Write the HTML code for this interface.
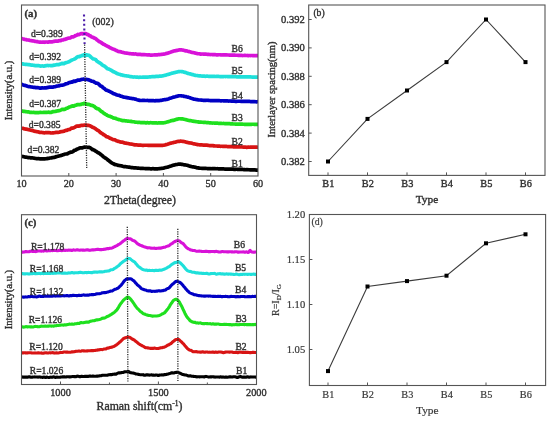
<!DOCTYPE html>
<html><head><meta charset="utf-8"><title>figure</title>
<style>html,body{margin:0;padding:0;background:#fff;width:550px;height:421px;overflow:hidden}</style>
</head><body>
<svg width="550" height="421" viewBox="0 0 550 421" style="display:block">
<rect width="550" height="421" fill="#fff"/>
<g font-family='"Liberation Serif", serif' fill="#303030" style="filter:blur(0.35px)">
<style>text{stroke:#303030;stroke-width:0.36px;paint-order:stroke} text.lt{stroke-width:0.2px;fill:#3a3a3a;stroke:#3a3a3a}</style>
<clipPath id="ca"><rect x="21.5" y="5.0" width="236.5" height="171.0"/></clipPath>
<g clip-path="url(#ca)">
<path d="M20.50,156.21 L21.20,156.35 L21.90,156.44 L22.60,156.53 L23.30,156.65 L24.00,156.78 L24.70,156.98 L25.40,157.14 L26.10,157.19 L26.80,157.27 L27.50,157.44 L28.20,157.56 L28.90,157.61 L29.60,157.67 L30.30,157.80 L31.00,157.90 L31.70,157.92 L32.40,157.96 L33.10,158.01 L33.80,158.08 L34.50,158.21 L35.20,158.35 L35.90,158.47 L36.60,158.61 L37.30,158.72 L38.00,158.70 L38.70,158.66 L39.40,158.78 L40.10,158.93 L40.80,158.93 L41.50,158.88 L42.20,158.88 L42.90,158.87 L43.60,158.90 L44.30,158.92 L45.00,158.82 L45.70,158.77 L46.40,158.72 L47.10,158.56 L47.80,158.44 L48.50,158.37 L49.20,158.20 L49.90,158.01 L50.60,158.00 L51.30,157.92 L52.00,157.69 L52.70,157.61 L53.40,157.48 L54.10,157.34 L54.80,157.34 L55.50,157.06 L56.20,156.64 L56.90,156.49 L57.60,156.36 L58.30,156.14 L59.00,155.95 L59.70,155.76 L60.40,155.67 L61.10,155.51 L61.80,155.15 L62.50,154.90 L63.20,154.73 L63.90,154.48 L64.60,154.18 L65.30,154.00 L66.00,153.99 L66.70,154.01 L67.40,153.72 L68.10,153.13 L68.80,152.89 L69.50,152.71 L70.20,152.23 L70.90,152.02 L71.60,152.05 L72.30,151.96 L73.00,151.51 L73.70,150.87 L74.40,150.38 L75.10,150.20 L75.80,150.01 L76.50,149.46 L77.20,149.04 L77.90,148.88 L78.60,148.59 L79.30,148.19 L80.00,147.87 L80.70,147.76 L81.40,147.78 L82.10,147.86 L82.80,147.67 L83.50,147.35 L84.20,147.18 L84.90,147.12 L85.60,147.24 L86.30,147.35 L87.00,147.32 L87.70,147.34 L88.40,147.45 L89.10,147.35 L89.80,147.47 L90.50,148.01 L91.20,148.47 L91.90,149.18 L92.60,149.75 L93.30,149.71 L94.00,149.91 L94.70,150.54 L95.40,151.04 L96.10,151.35 L96.80,151.81 L97.50,152.42 L98.20,152.80 L98.90,153.06 L99.60,153.61 L100.30,154.13 L101.00,154.58 L101.70,155.15 L102.40,155.75 L103.10,156.43 L103.80,156.97 L104.50,157.39 L105.20,157.89 L105.90,158.35 L106.60,158.76 L107.30,159.45 L108.00,160.10 L108.70,160.58 L109.40,161.12 L110.10,161.62 L110.80,162.14 L111.50,162.64 L112.20,163.13 L112.90,163.44 L113.60,163.72 L114.30,164.26 L115.00,164.60 L115.70,164.67 L116.40,164.78 L117.10,164.94 L117.80,165.15 L118.50,165.40 L119.20,165.52 L119.90,165.61 L120.60,165.73 L121.30,165.83 L122.00,166.03 L122.70,166.29 L123.40,166.45 L124.10,166.57 L124.80,166.64 L125.50,166.68 L126.20,166.78 L126.90,166.90 L127.60,167.02 L128.30,167.10 L129.00,167.15 L129.70,167.19 L130.40,167.36 L131.10,167.55 L131.80,167.55 L132.50,167.58 L133.20,167.77 L133.90,167.86 L134.60,167.83 L135.30,167.88 L136.00,167.92 L136.70,167.98 L137.40,168.13 L138.10,168.21 L138.80,168.22 L139.50,168.25 L140.20,168.30 L140.90,168.32 L141.60,168.32 L142.30,168.31 L143.00,168.38 L143.70,168.50 L144.40,168.52 L145.10,168.53 L145.80,168.55 L146.50,168.55 L147.20,168.59 L147.90,168.65 L148.60,168.66 L149.30,168.67 L150.00,168.73 L150.70,168.80 L151.40,168.82 L152.10,168.78 L152.80,168.71 L153.50,168.72 L154.20,168.83 L154.90,168.87 L155.60,168.83 L156.30,168.85 L157.00,168.87 L157.70,168.85 L158.40,168.78 L159.10,168.70 L159.80,168.62 L160.50,168.49 L161.20,168.41 L161.90,168.35 L162.60,168.26 L163.30,168.18 L164.00,167.98 L164.70,167.68 L165.40,167.50 L166.10,167.42 L166.80,167.27 L167.50,167.15 L168.20,166.97 L168.90,166.64 L169.60,166.37 L170.30,166.23 L171.00,166.02 L171.70,165.77 L172.40,165.55 L173.10,165.32 L173.80,165.11 L174.50,164.96 L175.20,164.75 L175.90,164.57 L176.60,164.50 L177.30,164.40 L178.00,164.27 L178.70,164.16 L179.40,164.11 L180.10,164.13 L180.80,164.20 L181.50,164.30 L182.20,164.39 L182.90,164.52 L183.60,164.70 L184.30,164.82 L185.00,164.87 L185.70,164.99 L186.40,165.13 L187.10,165.24 L187.80,165.39 L188.50,165.64 L189.20,165.93 L189.90,166.15 L190.60,166.34 L191.30,166.57 L192.00,166.78 L192.70,166.86 L193.40,166.91 L194.10,167.06 L194.80,167.16 L195.50,167.28 L196.20,167.59 L196.90,167.86 L197.60,167.93 L198.30,167.94 L199.00,168.07 L199.70,168.22 L200.40,168.26 L201.10,168.27 L201.80,168.30 L202.50,168.36 L203.20,168.42 L203.90,168.45 L204.60,168.43 L205.30,168.42 L206.00,168.46 L206.70,168.51 L207.40,168.54 L208.10,168.51 L208.80,168.53 L209.50,168.55 L210.20,168.59 L210.90,168.72 L211.60,168.76 L212.30,168.70 L213.00,168.72 L213.70,168.67 L214.40,168.59 L215.10,168.67 L215.80,168.74 L216.50,168.73 L217.20,168.70 L217.90,168.73 L218.60,168.81 L219.30,168.87 L220.00,168.87 L220.70,168.89 L221.40,168.92 L222.10,168.87 L222.80,168.80 L223.50,168.84 L224.20,168.98 L224.90,169.05 L225.60,169.05 L226.30,169.04 L227.00,169.03 L227.70,169.03 L228.40,169.03 L229.10,169.05 L229.80,169.13 L230.50,169.21 L231.20,169.20 L231.90,169.16 L232.60,169.14 L233.30,169.20 L234.00,169.31 L234.70,169.33 L235.40,169.29 L236.10,169.26 L236.80,169.26 L237.50,169.34 L238.20,169.41 L238.90,169.40 L239.60,169.40 L240.30,169.43 L241.00,169.43 L241.70,169.41 L242.40,169.45 L243.10,169.52 L243.80,169.58 L244.50,169.59 L245.20,169.67 L245.90,169.73 L246.60,169.68 L247.30,169.66 L248.00,169.72 L248.70,169.73 L249.40,169.74 L250.10,169.85 L250.80,169.94 L251.50,169.89 L252.20,169.83 L252.90,169.85 L253.60,169.89 L254.30,169.87 L255.00,169.93 L255.70,170.03 L256.40,170.05 L257.10,170.14 L257.80,170.21 L258.50,170.17" fill="none" stroke="#000000" stroke-width="3.7" stroke-linejoin="round" stroke-linecap="butt"/>
<path d="M20.50,127.97 L21.20,128.16 L21.90,128.22 L22.60,128.28 L23.30,128.42 L24.00,128.67 L24.70,128.92 L25.40,129.04 L26.10,129.08 L26.80,129.19 L27.50,129.39 L28.20,129.58 L28.90,129.74 L29.60,129.91 L30.30,130.06 L31.00,130.19 L31.70,130.36 L32.40,130.54 L33.10,130.74 L33.80,130.99 L34.50,131.25 L35.20,131.39 L35.90,131.46 L36.60,131.59 L37.30,131.77 L38.00,131.87 L38.70,132.05 L39.40,132.35 L40.10,132.50 L40.80,132.47 L41.50,132.44 L42.20,132.50 L42.90,132.59 L43.60,132.75 L44.30,132.87 L45.00,132.76 L45.70,132.61 L46.40,132.60 L47.10,132.68 L47.80,132.69 L48.50,132.66 L49.20,132.68 L49.90,132.73 L50.60,132.89 L51.30,133.00 L52.00,132.93 L52.70,132.83 L53.40,132.82 L54.10,132.76 L54.80,132.66 L55.50,132.53 L56.20,132.33 L56.90,132.29 L57.60,132.38 L58.30,132.31 L59.00,132.24 L59.70,132.08 L60.40,131.72 L61.10,131.59 L61.80,131.65 L62.50,131.53 L63.20,131.35 L63.90,131.26 L64.60,130.93 L65.30,130.46 L66.00,130.32 L66.70,130.37 L67.40,130.01 L68.10,129.58 L68.80,129.59 L69.50,129.53 L70.20,129.14 L70.90,128.60 L71.60,128.07 L72.30,127.99 L73.00,128.09 L73.70,127.84 L74.40,127.47 L75.10,127.06 L75.80,126.59 L76.50,126.20 L77.20,126.22 L77.90,126.22 L78.60,125.97 L79.30,126.03 L80.00,125.88 L80.70,125.48 L81.40,125.38 L82.10,125.44 L82.80,125.43 L83.50,125.28 L84.20,125.18 L84.90,125.15 L85.60,125.00 L86.30,124.99 L87.00,125.36 L87.70,125.52 L88.40,125.39 L89.10,125.57 L89.80,125.77 L90.50,126.05 L91.20,126.49 L91.90,126.88 L92.60,127.25 L93.30,127.48 L94.00,127.84 L94.70,128.22 L95.40,128.64 L96.10,129.24 L96.80,129.75 L97.50,130.25 L98.20,130.61 L98.90,130.99 L99.60,131.65 L100.30,132.41 L101.00,132.98 L101.70,133.35 L102.40,133.73 L103.10,134.23 L103.80,134.81 L104.50,135.12 L105.20,135.45 L105.90,136.19 L106.60,136.71 L107.30,136.83 L108.00,137.09 L108.70,137.47 L109.40,137.87 L110.10,138.26 L110.80,138.50 L111.50,138.79 L112.20,139.14 L112.90,139.39 L113.60,139.63 L114.30,139.78 L115.00,139.90 L115.70,140.27 L116.40,140.75 L117.10,140.98 L117.80,141.15 L118.50,141.38 L119.20,141.59 L119.90,141.87 L120.60,142.08 L121.30,142.07 L122.00,142.11 L122.70,142.29 L123.40,142.54 L124.10,142.86 L124.80,143.03 L125.50,143.03 L126.20,143.12 L126.90,143.38 L127.60,143.52 L128.30,143.52 L129.00,143.68 L129.70,143.88 L130.40,144.02 L131.10,144.10 L131.80,144.17 L132.50,144.25 L133.20,144.44 L133.90,144.69 L134.60,144.80 L135.30,144.79 L136.00,144.78 L136.70,144.84 L137.40,144.97 L138.10,145.09 L138.80,145.15 L139.50,145.15 L140.20,145.14 L140.90,145.18 L141.60,145.26 L142.30,145.36 L143.00,145.39 L143.70,145.29 L144.40,145.23 L145.10,145.24 L145.80,145.24 L146.50,145.24 L147.20,145.26 L147.90,145.28 L148.60,145.33 L149.30,145.35 L150.00,145.35 L150.70,145.33 L151.40,145.29 L152.10,145.29 L152.80,145.31 L153.50,145.34 L154.20,145.37 L154.90,145.35 L155.60,145.31 L156.30,145.32 L157.00,145.31 L157.70,145.32 L158.40,145.31 L159.10,145.28 L159.80,145.35 L160.50,145.41 L161.20,145.38 L161.90,145.36 L162.60,145.31 L163.30,145.23 L164.00,145.14 L164.70,145.02 L165.40,144.84 L166.10,144.64 L166.80,144.47 L167.50,144.28 L168.20,144.02 L168.90,143.80 L169.60,143.55 L170.30,143.29 L171.00,143.13 L171.70,142.98 L172.40,142.80 L173.10,142.62 L173.80,142.41 L174.50,142.24 L175.20,142.11 L175.90,141.94 L176.60,141.70 L177.30,141.50 L178.00,141.44 L178.70,141.42 L179.40,141.33 L180.10,141.20 L180.80,141.16 L181.50,141.26 L182.20,141.28 L182.90,141.30 L183.60,141.46 L184.30,141.58 L185.00,141.71 L185.70,141.95 L186.40,142.19 L187.10,142.33 L187.80,142.51 L188.50,142.75 L189.20,142.86 L189.90,142.90 L190.60,142.97 L191.30,143.08 L192.00,143.26 L192.70,143.50 L193.40,143.68 L194.10,143.84 L194.80,143.99 L195.50,144.09 L196.20,144.24 L196.90,144.43 L197.60,144.58 L198.30,144.69 L199.00,144.74 L199.70,144.78 L200.40,144.82 L201.10,144.80 L201.80,144.84 L202.50,144.98 L203.20,145.07 L203.90,145.07 L204.60,145.06 L205.30,145.13 L206.00,145.19 L206.70,145.19 L207.40,145.21 L208.10,145.35 L208.80,145.50 L209.50,145.53 L210.20,145.53 L210.90,145.60 L211.60,145.61 L212.30,145.56 L213.00,145.67 L213.70,145.82 L214.40,145.91 L215.10,146.00 L215.80,146.02 L216.50,146.00 L217.20,146.03 L217.90,146.06 L218.60,146.06 L219.30,146.11 L220.00,146.24 L220.70,146.30 L221.40,146.26 L222.10,146.25 L222.80,146.33 L223.50,146.40 L224.20,146.43 L224.90,146.44 L225.60,146.41 L226.30,146.42 L227.00,146.50 L227.70,146.59 L228.40,146.59 L229.10,146.51 L229.80,146.53 L230.50,146.62 L231.20,146.60 L231.90,146.62 L232.60,146.75 L233.30,146.81 L234.00,146.80 L234.70,146.81 L235.40,146.85 L236.10,146.89 L236.80,146.89 L237.50,146.84 L238.20,146.84 L238.90,146.90 L239.60,146.93 L240.30,146.99 L241.00,146.99 L241.70,146.96 L242.40,146.99 L243.10,147.04 L243.80,147.07 L244.50,147.04 L245.20,147.07 L245.90,147.20 L246.60,147.30 L247.30,147.28 L248.00,147.19 L248.70,147.19 L249.40,147.23 L250.10,147.16 L250.80,147.11 L251.50,147.16 L252.20,147.18 L252.90,147.11 L253.60,147.04 L254.30,147.09 L255.00,147.17 L255.70,147.17 L256.40,147.18 L257.10,147.22 L257.80,147.23 L258.50,147.20" fill="none" stroke="#d81414" stroke-width="3.7" stroke-linejoin="round" stroke-linecap="butt"/>
<path d="M20.50,110.82 L21.20,110.89 L21.90,110.98 L22.60,111.13 L23.30,111.31 L24.00,111.40 L24.70,111.45 L25.40,111.56 L26.10,111.70 L26.80,111.78 L27.50,111.79 L28.20,111.86 L28.90,112.07 L29.60,112.28 L30.30,112.32 L31.00,112.30 L31.70,112.41 L32.40,112.50 L33.10,112.44 L33.80,112.45 L34.50,112.54 L35.20,112.57 L35.90,112.54 L36.60,112.55 L37.30,112.66 L38.00,112.68 L38.70,112.61 L39.40,112.49 L40.10,112.40 L40.80,112.45 L41.50,112.50 L42.20,112.52 L42.90,112.51 L43.60,112.39 L44.30,112.32 L45.00,112.37 L45.70,112.37 L46.40,112.33 L47.10,112.32 L47.80,112.23 L48.50,112.18 L49.20,112.31 L49.90,112.36 L50.60,112.37 L51.30,112.33 L52.00,112.02 L52.70,111.70 L53.40,111.59 L54.10,111.53 L54.80,111.52 L55.50,111.39 L56.20,111.18 L56.90,111.07 L57.60,110.91 L58.30,110.80 L59.00,110.65 L59.70,110.39 L60.40,110.16 L61.10,109.88 L61.80,109.53 L62.50,109.26 L63.20,109.33 L63.90,109.54 L64.60,109.44 L65.30,109.07 L66.00,108.57 L66.70,108.22 L67.40,108.08 L68.10,107.75 L68.80,107.34 L69.50,107.07 L70.20,106.82 L70.90,106.54 L71.60,106.22 L72.30,105.89 L73.00,105.97 L73.70,106.13 L74.40,105.72 L75.10,105.34 L75.80,105.33 L76.50,105.09 L77.20,104.65 L77.90,104.61 L78.60,104.75 L79.30,104.58 L80.00,104.53 L80.70,104.48 L81.40,104.12 L82.10,103.87 L82.80,103.95 L83.50,103.87 L84.20,103.40 L84.90,103.28 L85.60,103.58 L86.30,103.92 L87.00,104.27 L87.70,104.30 L88.40,104.23 L89.10,104.58 L89.80,104.86 L90.50,105.08 L91.20,105.42 L91.90,105.39 L92.60,105.47 L93.30,105.92 L94.00,106.30 L94.70,106.82 L95.40,107.49 L96.10,108.10 L96.80,108.57 L97.50,108.63 L98.20,108.75 L98.90,109.29 L99.60,109.87 L100.30,110.52 L101.00,111.24 L101.70,111.59 L102.40,111.96 L103.10,112.68 L103.80,113.24 L104.50,113.65 L105.20,114.10 L105.90,114.51 L106.60,114.93 L107.30,115.36 L108.00,115.68 L108.70,115.96 L109.40,116.16 L110.10,116.33 L110.80,116.69 L111.50,117.09 L112.20,117.34 L112.90,117.64 L113.60,118.07 L114.30,118.24 L115.00,118.21 L115.70,118.39 L116.40,118.74 L117.10,119.01 L117.80,119.20 L118.50,119.41 L119.20,119.62 L119.90,119.81 L120.60,119.95 L121.30,120.16 L122.00,120.49 L122.70,120.65 L123.40,120.57 L124.10,120.57 L124.80,120.74 L125.50,120.88 L126.20,120.92 L126.90,121.00 L127.60,121.11 L128.30,121.15 L129.00,121.22 L129.70,121.28 L130.40,121.29 L131.10,121.39 L131.80,121.58 L132.50,121.71 L133.20,121.75 L133.90,121.77 L134.60,121.93 L135.30,122.12 L136.00,122.21 L136.70,122.23 L137.40,122.28 L138.10,122.37 L138.80,122.39 L139.50,122.37 L140.20,122.47 L140.90,122.60 L141.60,122.64 L142.30,122.63 L143.00,122.63 L143.70,122.64 L144.40,122.63 L145.10,122.70 L145.80,122.83 L146.50,122.79 L147.20,122.71 L147.90,122.72 L148.60,122.80 L149.30,122.82 L150.00,122.74 L150.70,122.68 L151.40,122.74 L152.10,122.81 L152.80,122.87 L153.50,122.92 L154.20,122.92 L154.90,122.88 L155.60,122.85 L156.30,122.94 L157.00,123.03 L157.70,122.99 L158.40,122.93 L159.10,122.96 L159.80,122.97 L160.50,122.89 L161.20,122.88 L161.90,122.94 L162.60,122.91 L163.30,122.82 L164.00,122.71 L164.70,122.59 L165.40,122.44 L166.10,122.24 L166.80,122.02 L167.50,121.88 L168.20,121.70 L168.90,121.43 L169.60,121.23 L170.30,121.04 L171.00,120.80 L171.70,120.60 L172.40,120.45 L173.10,120.40 L173.80,120.33 L174.50,120.08 L175.20,119.78 L175.90,119.54 L176.60,119.34 L177.30,119.17 L178.00,119.01 L178.70,118.83 L179.40,118.76 L180.10,118.76 L180.80,118.79 L181.50,118.79 L182.20,118.83 L182.90,118.99 L183.60,119.16 L184.30,119.31 L185.00,119.46 L185.70,119.56 L186.40,119.71 L187.10,120.00 L187.80,120.22 L188.50,120.33 L189.20,120.47 L189.90,120.60 L190.60,120.67 L191.30,120.76 L192.00,120.94 L192.70,121.09 L193.40,121.19 L194.10,121.33 L194.80,121.41 L195.50,121.51 L196.20,121.70 L196.90,121.76 L197.60,121.78 L198.30,121.91 L199.00,122.09 L199.70,122.15 L200.40,122.15 L201.10,122.21 L201.80,122.26 L202.50,122.27 L203.20,122.33 L203.90,122.37 L204.60,122.38 L205.30,122.43 L206.00,122.51 L206.70,122.56 L207.40,122.57 L208.10,122.65 L208.80,122.76 L209.50,122.81 L210.20,122.88 L210.90,122.94 L211.60,123.00 L212.30,123.04 L213.00,123.00 L213.70,123.02 L214.40,123.10 L215.10,123.22 L215.80,123.22 L216.50,123.09 L217.20,123.12 L217.90,123.28 L218.60,123.36 L219.30,123.38 L220.00,123.39 L220.70,123.43 L221.40,123.47 L222.10,123.50 L222.80,123.49 L223.50,123.46 L224.20,123.51 L224.90,123.59 L225.60,123.65 L226.30,123.65 L227.00,123.65 L227.70,123.70 L228.40,123.69 L229.10,123.67 L229.80,123.70 L230.50,123.81 L231.20,123.92 L231.90,123.96 L232.60,123.97 L233.30,124.00 L234.00,123.99 L234.70,124.00 L235.40,124.07 L236.10,124.10 L236.80,124.06 L237.50,124.06 L238.20,124.09 L238.90,124.10 L239.60,124.12 L240.30,124.18 L241.00,124.20 L241.70,124.19 L242.40,124.19 L243.10,124.24 L243.80,124.26 L244.50,124.30 L245.20,124.38 L245.90,124.41 L246.60,124.43 L247.30,124.39 L248.00,124.30 L248.70,124.31 L249.40,124.36 L250.10,124.37 L250.80,124.36 L251.50,124.31 L252.20,124.27 L252.90,124.26 L253.60,124.27 L254.30,124.33 L255.00,124.35 L255.70,124.33 L256.40,124.37 L257.10,124.37 L257.80,124.29 L258.50,124.27" fill="none" stroke="#1ee01e" stroke-width="3.7" stroke-linejoin="round" stroke-linecap="butt"/>
<path d="M20.50,83.91 L21.20,84.11 L21.90,84.45 L22.60,84.78 L23.30,84.98 L24.00,85.18 L24.70,85.38 L25.40,85.60 L26.10,85.82 L26.80,86.03 L27.50,86.28 L28.20,86.49 L28.90,86.59 L29.60,86.65 L30.30,86.75 L31.00,86.90 L31.70,87.03 L32.40,87.15 L33.10,87.28 L33.80,87.35 L34.50,87.33 L35.20,87.44 L35.90,87.62 L36.60,87.64 L37.30,87.67 L38.00,87.72 L38.70,87.77 L39.40,87.96 L40.10,88.16 L40.80,88.10 L41.50,87.93 L42.20,87.89 L42.90,87.96 L43.60,87.99 L44.30,87.88 L45.00,87.83 L45.70,87.90 L46.40,87.84 L47.10,87.64 L47.80,87.43 L48.50,87.30 L49.20,87.20 L49.90,87.13 L50.60,87.17 L51.30,87.13 L52.00,87.14 L52.70,87.21 L53.40,87.00 L54.10,86.73 L54.80,86.73 L55.50,86.66 L56.20,86.33 L56.90,86.12 L57.60,85.98 L58.30,85.90 L59.00,85.80 L59.70,85.43 L60.40,85.24 L61.10,85.28 L61.80,85.21 L62.50,85.10 L63.20,84.94 L63.90,84.80 L64.60,84.53 L65.30,84.06 L66.00,83.83 L66.70,83.69 L67.40,83.50 L68.10,83.20 L68.80,82.74 L69.50,82.51 L70.20,82.47 L70.90,82.14 L71.60,81.89 L72.30,82.09 L73.00,81.82 L73.70,81.06 L74.40,81.09 L75.10,81.41 L75.80,81.10 L76.50,80.63 L77.20,80.34 L77.90,80.15 L78.60,80.04 L79.30,80.04 L80.00,80.06 L80.70,79.83 L81.40,79.47 L82.10,79.29 L82.80,79.24 L83.50,79.14 L84.20,79.25 L84.90,79.48 L85.60,79.46 L86.30,79.45 L87.00,79.51 L87.70,79.58 L88.40,79.71 L89.10,80.03 L89.80,80.32 L90.50,80.59 L91.20,81.06 L91.90,81.23 L92.60,81.23 L93.30,81.47 L94.00,81.87 L94.70,82.26 L95.40,82.71 L96.10,83.16 L96.80,83.19 L97.50,83.24 L98.20,83.68 L98.90,84.18 L99.60,84.98 L100.30,85.79 L101.00,86.11 L101.70,86.28 L102.40,86.93 L103.10,87.78 L103.80,88.21 L104.50,88.59 L105.20,89.28 L105.90,89.91 L106.60,90.18 L107.30,90.36 L108.00,90.75 L108.70,91.12 L109.40,91.34 L110.10,91.66 L110.80,92.08 L111.50,92.43 L112.20,92.82 L112.90,93.35 L113.60,93.74 L114.30,93.84 L115.00,94.04 L115.70,94.38 L116.40,94.74 L117.10,95.01 L117.80,95.13 L118.50,95.22 L119.20,95.41 L119.90,95.73 L120.60,96.10 L121.30,96.29 L122.00,96.42 L122.70,96.65 L123.40,96.92 L124.10,97.11 L124.80,97.24 L125.50,97.33 L126.20,97.40 L126.90,97.63 L127.60,97.85 L128.30,97.87 L129.00,98.00 L129.70,98.19 L130.40,98.26 L131.10,98.35 L131.80,98.49 L132.50,98.63 L133.20,98.69 L133.90,98.76 L134.60,98.93 L135.30,99.12 L136.00,99.33 L136.70,99.61 L137.40,99.87 L138.10,100.04 L138.80,100.17 L139.50,100.33 L140.20,100.43 L140.90,100.48 L141.60,100.48 L142.30,100.43 L143.00,100.45 L143.70,100.47 L144.40,100.45 L145.10,100.48 L145.80,100.51 L146.50,100.48 L147.20,100.45 L147.90,100.50 L148.60,100.61 L149.30,100.70 L150.00,100.72 L150.70,100.67 L151.40,100.63 L152.10,100.64 L152.80,100.67 L153.50,100.70 L154.20,100.77 L154.90,100.80 L155.60,100.70 L156.30,100.60 L157.00,100.57 L157.70,100.53 L158.40,100.55 L159.10,100.60 L159.80,100.49 L160.50,100.34 L161.20,100.32 L161.90,100.25 L162.60,100.05 L163.30,99.87 L164.00,99.76 L164.70,99.67 L165.40,99.57 L166.10,99.46 L166.80,99.33 L167.50,99.19 L168.20,99.00 L168.90,98.69 L169.60,98.36 L170.30,98.14 L171.00,97.93 L171.70,97.70 L172.40,97.51 L173.10,97.28 L173.80,97.08 L174.50,96.97 L175.20,96.79 L175.90,96.57 L176.60,96.41 L177.30,96.26 L178.00,96.01 L178.70,95.78 L179.40,95.73 L180.10,95.73 L180.80,95.75 L181.50,95.87 L182.20,95.99 L182.90,96.02 L183.60,96.16 L184.30,96.39 L185.00,96.47 L185.70,96.56 L186.40,96.78 L187.10,96.95 L187.80,97.11 L188.50,97.32 L189.20,97.49 L189.90,97.68 L190.60,97.98 L191.30,98.23 L192.00,98.42 L192.70,98.64 L193.40,98.92 L194.10,99.14 L194.80,99.24 L195.50,99.36 L196.20,99.48 L196.90,99.59 L197.60,99.77 L198.30,99.92 L199.00,100.01 L199.70,100.01 L200.40,99.99 L201.10,100.04 L201.80,100.14 L202.50,100.23 L203.20,100.29 L203.90,100.31 L204.60,100.36 L205.30,100.40 L206.00,100.33 L206.70,100.24 L207.40,100.23 L208.10,100.33 L208.80,100.45 L209.50,100.48 L210.20,100.53 L210.90,100.60 L211.60,100.64 L212.30,100.63 L213.00,100.57 L213.70,100.56 L214.40,100.59 L215.10,100.60 L215.80,100.60 L216.50,100.66 L217.20,100.69 L217.90,100.63 L218.60,100.63 L219.30,100.67 L220.00,100.73 L220.70,100.78 L221.40,100.79 L222.10,100.76 L222.80,100.75 L223.50,100.80 L224.20,100.83 L224.90,100.86 L225.60,100.82 L226.30,100.73 L227.00,100.80 L227.70,100.95 L228.40,101.04 L229.10,101.03 L229.80,100.97 L230.50,100.98 L231.20,101.11 L231.90,101.18 L232.60,101.12 L233.30,101.04 L234.00,101.05 L234.70,101.21 L235.40,101.34 L236.10,101.32 L236.80,101.30 L237.50,101.26 L238.20,101.24 L238.90,101.27 L239.60,101.25 L240.30,101.27 L241.00,101.36 L241.70,101.41 L242.40,101.42 L243.10,101.40 L243.80,101.34 L244.50,101.34 L245.20,101.40 L245.90,101.39 L246.60,101.36 L247.30,101.39 L248.00,101.42 L248.70,101.40 L249.40,101.40 L250.10,101.47 L250.80,101.58 L251.50,101.70 L252.20,101.72 L252.90,101.62 L253.60,101.63 L254.30,101.72 L255.00,101.72 L255.70,101.76 L256.40,101.83 L257.10,101.77 L257.80,101.69 L258.50,101.71" fill="none" stroke="#0000c4" stroke-width="3.7" stroke-linejoin="round" stroke-linecap="butt"/>
<path d="M20.50,63.65 L21.20,63.72 L21.90,63.74 L22.60,63.86 L23.30,64.06 L24.00,64.17 L24.70,64.24 L25.40,64.37 L26.10,64.43 L26.80,64.43 L27.50,64.55 L28.20,64.69 L28.90,64.69 L29.60,64.71 L30.30,64.87 L31.00,65.08 L31.70,65.12 L32.40,65.14 L33.10,65.28 L33.80,65.34 L34.50,65.44 L35.20,65.59 L35.90,65.63 L36.60,65.60 L37.30,65.62 L38.00,65.70 L38.70,65.67 L39.40,65.73 L40.10,65.98 L40.80,66.09 L41.50,66.01 L42.20,65.95 L42.90,66.02 L43.60,66.11 L44.30,66.04 L45.00,65.85 L45.70,65.71 L46.40,65.63 L47.10,65.49 L47.80,65.47 L48.50,65.55 L49.20,65.51 L49.90,65.49 L50.60,65.57 L51.30,65.68 L52.00,65.60 L52.70,65.44 L53.40,65.34 L54.10,65.15 L54.80,65.08 L55.50,65.02 L56.20,64.80 L56.90,64.60 L57.60,64.49 L58.30,64.56 L59.00,64.54 L59.70,64.25 L60.40,63.99 L61.10,63.73 L61.80,63.43 L62.50,63.42 L63.20,63.70 L63.90,63.73 L64.60,63.25 L65.30,62.83 L66.00,62.67 L66.70,62.49 L67.40,62.32 L68.10,62.09 L68.80,61.82 L69.50,61.51 L70.20,61.06 L70.90,60.57 L71.60,60.16 L72.30,59.88 L73.00,59.62 L73.70,59.37 L74.40,59.10 L75.10,58.84 L75.80,58.35 L76.50,57.55 L77.20,56.95 L77.90,56.68 L78.60,56.71 L79.30,56.68 L80.00,56.24 L80.70,55.93 L81.40,55.72 L82.10,55.45 L82.80,55.43 L83.50,54.93 L84.20,54.73 L84.90,55.54 L85.60,55.57 L86.30,54.97 L87.00,54.93 L87.70,55.17 L88.40,55.28 L89.10,55.40 L89.80,55.93 L90.50,56.70 L91.20,57.35 L91.90,57.89 L92.60,58.45 L93.30,58.91 L94.00,59.05 L94.70,59.19 L95.40,59.41 L96.10,60.11 L96.80,60.99 L97.50,61.47 L98.20,62.00 L98.90,62.45 L99.60,62.77 L100.30,63.28 L101.00,63.79 L101.70,64.37 L102.40,65.05 L103.10,65.51 L103.80,65.73 L104.50,66.14 L105.20,66.73 L105.90,67.29 L106.60,68.00 L107.30,68.62 L108.00,68.85 L108.70,69.03 L109.40,69.35 L110.10,69.67 L110.80,70.04 L111.50,70.46 L112.20,70.91 L112.90,71.37 L113.60,71.78 L114.30,72.07 L115.00,72.30 L115.70,72.67 L116.40,73.16 L117.10,73.53 L117.80,73.82 L118.50,74.07 L119.20,74.23 L119.90,74.36 L120.60,74.65 L121.30,74.88 L122.00,74.91 L122.70,75.14 L123.40,75.39 L124.10,75.47 L124.80,75.62 L125.50,75.74 L126.20,75.79 L126.90,75.90 L127.60,75.99 L128.30,76.11 L129.00,76.27 L129.70,76.44 L130.40,76.60 L131.10,76.66 L131.80,76.74 L132.50,76.93 L133.20,77.03 L133.90,77.00 L134.60,76.97 L135.30,77.03 L136.00,77.11 L136.70,77.10 L137.40,77.08 L138.10,77.25 L138.80,77.32 L139.50,77.20 L140.20,77.21 L140.90,77.24 L141.60,77.23 L142.30,77.22 L143.00,77.15 L143.70,77.17 L144.40,77.22 L145.10,77.14 L145.80,77.07 L146.50,77.05 L147.20,77.06 L147.90,77.06 L148.60,76.99 L149.30,76.93 L150.00,76.87 L150.70,76.86 L151.40,76.76 L152.10,76.63 L152.80,76.62 L153.50,76.60 L154.20,76.61 L154.90,76.61 L155.60,76.46 L156.30,76.40 L157.00,76.44 L157.70,76.41 L158.40,76.36 L159.10,76.23 L159.80,76.08 L160.50,76.06 L161.20,76.07 L161.90,75.99 L162.60,75.85 L163.30,75.70 L164.00,75.53 L164.70,75.40 L165.40,75.28 L166.10,75.01 L166.80,74.70 L167.50,74.52 L168.20,74.39 L168.90,74.18 L169.60,73.92 L170.30,73.71 L171.00,73.51 L171.70,73.26 L172.40,73.09 L173.10,72.97 L173.80,72.78 L174.50,72.60 L175.20,72.45 L175.90,72.24 L176.60,72.07 L177.30,71.97 L178.00,71.79 L178.70,71.62 L179.40,71.58 L180.10,71.52 L180.80,71.48 L181.50,71.56 L182.20,71.63 L182.90,71.73 L183.60,71.96 L184.30,72.21 L185.00,72.39 L185.70,72.59 L186.40,72.87 L187.10,73.16 L187.80,73.35 L188.50,73.54 L189.20,73.72 L189.90,73.86 L190.60,74.08 L191.30,74.32 L192.00,74.44 L192.70,74.63 L193.40,74.86 L194.10,75.00 L194.80,75.16 L195.50,75.37 L196.20,75.49 L196.90,75.51 L197.60,75.62 L198.30,75.74 L199.00,75.82 L199.70,75.89 L200.40,75.96 L201.10,76.02 L201.80,76.04 L202.50,76.10 L203.20,76.13 L203.90,76.13 L204.60,76.21 L205.30,76.30 L206.00,76.26 L206.70,76.21 L207.40,76.21 L208.10,76.23 L208.80,76.30 L209.50,76.34 L210.20,76.30 L210.90,76.33 L211.60,76.39 L212.30,76.37 L213.00,76.34 L213.70,76.31 L214.40,76.31 L215.10,76.42 L215.80,76.51 L216.50,76.45 L217.20,76.39 L217.90,76.40 L218.60,76.45 L219.30,76.51 L220.00,76.56 L220.70,76.61 L221.40,76.61 L222.10,76.60 L222.80,76.59 L223.50,76.54 L224.20,76.48 L224.90,76.51 L225.60,76.56 L226.30,76.51 L227.00,76.50 L227.70,76.59 L228.40,76.62 L229.10,76.60 L229.80,76.63 L230.50,76.66 L231.20,76.67 L231.90,76.62 L232.60,76.64 L233.30,76.72 L234.00,76.75 L234.70,76.73 L235.40,76.71 L236.10,76.72 L236.80,76.81 L237.50,76.85 L238.20,76.84 L238.90,76.92 L239.60,76.93 L240.30,76.89 L241.00,76.87 L241.70,76.79 L242.40,76.75 L243.10,76.80 L243.80,76.87 L244.50,76.91 L245.20,76.93 L245.90,76.91 L246.60,76.89 L247.30,76.94 L248.00,76.94 L248.70,76.95 L249.40,76.97 L250.10,76.95 L250.80,76.94 L251.50,76.99 L252.20,77.08 L252.90,77.15 L253.60,77.14 L254.30,77.08 L255.00,77.05 L255.70,77.10 L256.40,77.12 L257.10,77.12 L257.80,77.20 L258.50,77.22" fill="none" stroke="#1ee0da" stroke-width="3.7" stroke-linejoin="round" stroke-linecap="butt"/>
<path d="M20.50,38.13 L21.20,38.38 L21.90,38.61 L22.60,38.80 L23.30,38.97 L24.00,39.15 L24.70,39.36 L25.40,39.52 L26.10,39.66 L26.80,39.83 L27.50,39.95 L28.20,40.04 L28.90,40.14 L29.60,40.32 L30.30,40.47 L31.00,40.57 L31.70,40.74 L32.40,40.91 L33.10,40.96 L33.80,41.01 L34.50,41.22 L35.20,41.42 L35.90,41.52 L36.60,41.57 L37.30,41.65 L38.00,41.83 L38.70,41.99 L39.40,42.03 L40.10,42.05 L40.80,42.14 L41.50,42.23 L42.20,42.22 L42.90,42.14 L43.60,42.19 L44.30,42.28 L45.00,42.14 L45.70,42.01 L46.40,41.99 L47.10,41.99 L47.80,42.12 L48.50,42.12 L49.20,41.84 L49.90,41.72 L50.60,41.88 L51.30,41.94 L52.00,41.87 L52.70,41.74 L53.40,41.53 L54.10,41.36 L54.80,41.18 L55.50,41.14 L56.20,41.20 L56.90,41.21 L57.60,41.21 L58.30,40.96 L59.00,40.68 L59.70,40.75 L60.40,40.75 L61.10,40.37 L61.80,40.00 L62.50,40.02 L63.20,39.98 L63.90,39.59 L64.60,39.37 L65.30,39.37 L66.00,39.07 L66.70,38.64 L67.40,38.39 L68.10,38.24 L68.80,38.13 L69.50,38.03 L70.20,37.92 L70.90,37.47 L71.60,36.93 L72.30,36.89 L73.00,36.90 L73.70,36.68 L74.40,36.37 L75.10,35.81 L75.80,35.50 L76.50,35.39 L77.20,34.79 L77.90,34.44 L78.60,34.61 L79.30,34.45 L80.00,34.10 L80.70,33.80 L81.40,33.61 L82.10,33.65 L82.80,33.85 L83.50,33.74 L84.20,33.52 L84.90,33.68 L85.60,33.64 L86.30,33.79 L87.00,34.34 L87.70,34.50 L88.40,34.81 L89.10,35.47 L89.80,35.74 L90.50,36.04 L91.20,36.62 L91.90,37.00 L92.60,37.24 L93.30,37.52 L94.00,37.88 L94.70,38.28 L95.40,38.52 L96.10,39.06 L96.80,39.82 L97.50,40.18 L98.20,40.68 L98.90,41.39 L99.60,41.64 L100.30,41.91 L101.00,42.41 L101.70,42.89 L102.40,43.58 L103.10,44.08 L103.80,44.22 L104.50,44.56 L105.20,45.09 L105.90,45.46 L106.60,45.81 L107.30,46.16 L108.00,46.40 L108.70,46.82 L109.40,47.31 L110.10,47.73 L110.80,48.06 L111.50,48.35 L112.20,48.76 L112.90,49.06 L113.60,49.24 L114.30,49.46 L115.00,49.83 L115.70,50.23 L116.40,50.50 L117.10,50.85 L117.80,51.23 L118.50,51.51 L119.20,51.66 L119.90,51.67 L120.60,51.78 L121.30,52.07 L122.00,52.28 L122.70,52.42 L123.40,52.55 L124.10,52.72 L124.80,52.87 L125.50,52.96 L126.20,53.05 L126.90,53.15 L127.60,53.24 L128.30,53.36 L129.00,53.46 L129.70,53.55 L130.40,53.67 L131.10,53.74 L131.80,53.79 L132.50,53.83 L133.20,53.92 L133.90,54.05 L134.60,54.01 L135.30,53.96 L136.00,54.03 L136.70,54.20 L137.40,54.35 L138.10,54.38 L138.80,54.35 L139.50,54.35 L140.20,54.42 L140.90,54.56 L141.60,54.61 L142.30,54.59 L143.00,54.63 L143.70,54.67 L144.40,54.66 L145.10,54.72 L145.80,54.73 L146.50,54.73 L147.20,54.87 L147.90,54.96 L148.60,54.91 L149.30,54.93 L150.00,55.04 L150.70,55.08 L151.40,55.10 L152.10,55.08 L152.80,55.01 L153.50,54.99 L154.20,54.95 L154.90,54.90 L155.60,54.87 L156.30,54.87 L157.00,54.86 L157.70,54.79 L158.40,54.69 L159.10,54.64 L159.80,54.58 L160.50,54.49 L161.20,54.42 L161.90,54.38 L162.60,54.29 L163.30,54.17 L164.00,54.08 L164.70,54.01 L165.40,53.82 L166.10,53.54 L166.80,53.34 L167.50,53.18 L168.20,52.93 L168.90,52.67 L169.60,52.46 L170.30,52.27 L171.00,52.05 L171.70,51.82 L172.40,51.59 L173.10,51.30 L173.80,51.06 L174.50,50.90 L175.20,50.80 L175.90,50.61 L176.60,50.43 L177.30,50.35 L178.00,50.19 L178.70,49.98 L179.40,49.86 L180.10,49.82 L180.80,49.88 L181.50,49.96 L182.20,50.03 L182.90,50.13 L183.60,50.27 L184.30,50.45 L185.00,50.68 L185.70,50.82 L186.40,50.86 L187.10,51.02 L187.80,51.24 L188.50,51.43 L189.20,51.58 L189.90,51.75 L190.60,51.95 L191.30,52.18 L192.00,52.35 L192.70,52.49 L193.40,52.66 L194.10,52.77 L194.80,52.91 L195.50,53.14 L196.20,53.32 L196.90,53.47 L197.60,53.66 L198.30,53.76 L199.00,53.75 L199.70,53.85 L200.40,54.03 L201.10,54.08 L201.80,54.00 L202.50,53.98 L203.20,54.05 L203.90,54.08 L204.60,54.11 L205.30,54.18 L206.00,54.19 L206.70,54.25 L207.40,54.36 L208.10,54.38 L208.80,54.42 L209.50,54.51 L210.20,54.54 L210.90,54.52 L211.60,54.51 L212.30,54.57 L213.00,54.68 L213.70,54.67 L214.40,54.60 L215.10,54.65 L215.80,54.74 L216.50,54.80 L217.20,54.87 L217.90,54.85 L218.60,54.77 L219.30,54.74 L220.00,54.74 L220.70,54.81 L221.40,54.93 L222.10,55.01 L222.80,54.90 L223.50,54.78 L224.20,54.83 L224.90,54.90 L225.60,54.87 L226.30,54.89 L227.00,54.97 L227.70,55.02 L228.40,55.02 L229.10,55.03 L229.80,55.08 L230.50,55.08 L231.20,55.04 L231.90,55.03 L232.60,55.10 L233.30,55.15 L234.00,55.13 L234.70,55.19 L235.40,55.26 L236.10,55.26 L236.80,55.25 L237.50,55.27 L238.20,55.38 L238.90,55.42 L239.60,55.34 L240.30,55.25 L241.00,55.30 L241.70,55.46 L242.40,55.53 L243.10,55.52 L243.80,55.50 L244.50,55.45 L245.20,55.45 L245.90,55.50 L246.60,55.49 L247.30,55.47 L248.00,55.58 L248.70,55.61 L249.40,55.50 L250.10,55.48 L250.80,55.55 L251.50,55.51 L252.20,55.49 L252.90,55.61 L253.60,55.65 L254.30,55.68 L255.00,55.76 L255.70,55.71 L256.40,55.65 L257.10,55.65 L257.80,55.63 L258.50,55.64" fill="none" stroke="#d812d8" stroke-width="3.7" stroke-linejoin="round" stroke-linecap="butt"/>
</g>
<line x1="84.0" y1="14.6" x2="84.6" y2="44" stroke="#4a1aa8" stroke-width="2.1" stroke-dasharray="2.0 2.6"/>
<line x1="84.6" y1="44.5" x2="86.7" y2="168" stroke="#2a2a2a" stroke-width="1.3" stroke-dasharray="1.2 1.2"/>
<text x="30.90" y="37.30" font-size="9.6" text-anchor="start" >d=0.389</text>
<text x="29.30" y="60.10" font-size="9.6" text-anchor="start" >d=0.392</text>
<text x="29.30" y="82.70" font-size="9.6" text-anchor="start" >d=0.389</text>
<text x="29.30" y="106.70" font-size="9.6" text-anchor="start" >d=0.387</text>
<text x="28.70" y="128.20" font-size="9.6" text-anchor="start" >d=0.385</text>
<text x="27.60" y="153.40" font-size="9.6" text-anchor="start" >d=0.382</text>
<text x="231.50" y="52.20" font-size="9.6" text-anchor="start" >B6</text>
<text x="231.50" y="74.20" font-size="9.6" text-anchor="start" >B5</text>
<text x="231.50" y="98.60" font-size="9.6" text-anchor="start" >B4</text>
<text x="231.50" y="121.00" font-size="9.6" text-anchor="start" >B3</text>
<text x="231.50" y="144.70" font-size="9.6" text-anchor="start" >B2</text>
<text x="231.50" y="166.90" font-size="9.6" text-anchor="start" >B1</text>
<text x="92.30" y="25.20" font-size="9.9" text-anchor="start" >(002)</text>
<text x="24.40" y="17.30" font-size="10.8" text-anchor="start" font-weight="bold">(a)</text>
<rect x="21.5" y="5.0" width="236.5" height="171.0" fill="none" stroke="#555" stroke-width="1.1"/>
<line x1="68.80" y1="176.0" x2="68.80" y2="173.0" stroke="#555" stroke-width="1"/>
<line x1="116.10" y1="176.0" x2="116.10" y2="173.0" stroke="#555" stroke-width="1"/>
<line x1="163.40" y1="176.0" x2="163.40" y2="173.0" stroke="#555" stroke-width="1"/>
<line x1="210.70" y1="176.0" x2="210.70" y2="173.0" stroke="#555" stroke-width="1"/>
<text x="21.50" y="187.20" font-size="10.2" text-anchor="middle" >10</text>
<text x="68.80" y="187.20" font-size="10.2" text-anchor="middle" >20</text>
<text x="116.10" y="187.20" font-size="10.2" text-anchor="middle" >30</text>
<text x="163.40" y="187.20" font-size="10.2" text-anchor="middle" >40</text>
<text x="210.70" y="187.20" font-size="10.2" text-anchor="middle" >50</text>
<text x="258.00" y="187.20" font-size="10.2" text-anchor="middle" >60</text>
<text x="140.00" y="203.90" font-size="11.8" text-anchor="middle" >2Theta(degree)</text>
<text transform="translate(11.6,90.50) rotate(-90)" font-size="10.6" text-anchor="middle">Intensity(a.u.)</text>
<clipPath id="cc"><rect x="21.5" y="214.7" width="235.0" height="169.8"/></clipPath>
<g clip-path="url(#cc)">
<path d="M20.50,376.80 L21.20,376.73 L21.90,376.84 L22.60,377.09 L23.30,377.13 L24.00,377.08 L24.70,377.06 L25.40,377.12 L26.10,377.16 L26.80,377.17 L27.50,377.15 L28.20,376.98 L28.90,376.84 L29.60,376.82 L30.30,376.94 L31.00,377.19 L31.70,377.24 L32.40,377.09 L33.10,377.03 L33.80,377.01 L34.50,376.92 L35.20,376.93 L35.90,376.95 L36.60,376.93 L37.30,377.05 L38.00,377.12 L38.70,377.01 L39.40,376.91 L40.10,377.05 L40.80,377.24 L41.50,377.22 L42.20,377.33 L42.90,377.33 L43.60,377.11 L44.30,377.09 L45.00,377.36 L45.70,377.42 L46.40,377.17 L47.10,377.17 L47.80,377.33 L48.50,377.43 L49.20,377.44 L49.90,377.29 L50.60,377.15 L51.30,377.21 L52.00,377.33 L52.70,377.09 L53.40,376.85 L54.10,377.01 L54.80,377.25 L55.50,377.36 L56.20,377.21 L56.90,377.13 L57.60,377.27 L58.30,377.32 L59.00,377.22 L59.70,377.21 L60.40,377.14 L61.10,377.01 L61.80,376.98 L62.50,376.91 L63.20,376.90 L63.90,376.92 L64.60,376.87 L65.30,376.99 L66.00,377.03 L66.70,376.82 L67.40,376.68 L68.10,376.72 L68.80,376.84 L69.50,376.86 L70.20,376.84 L70.90,376.78 L71.60,376.65 L72.30,376.52 L73.00,376.46 L73.70,376.58 L74.40,376.59 L75.10,376.56 L75.80,376.67 L76.50,376.47 L77.20,376.16 L77.90,376.19 L78.60,376.32 L79.30,376.61 L80.00,376.75 L80.70,376.48 L81.40,376.33 L82.10,376.36 L82.80,376.42 L83.50,376.52 L84.20,376.47 L84.90,376.37 L85.60,376.38 L86.30,376.29 L87.00,376.33 L87.70,376.48 L88.40,376.36 L89.10,376.13 L89.80,376.05 L90.50,376.11 L91.20,376.23 L91.90,376.23 L92.60,376.08 L93.30,376.13 L94.00,376.22 L94.70,376.19 L95.40,376.20 L96.10,376.22 L96.80,376.14 L97.50,376.06 L98.20,376.08 L98.90,375.94 L99.60,375.71 L100.30,375.73 L101.00,375.69 L101.70,375.50 L102.40,375.30 L103.10,375.19 L103.80,375.24 L104.50,375.31 L105.20,375.26 L105.90,375.21 L106.60,375.31 L107.30,375.25 L108.00,375.01 L108.70,374.84 L109.40,374.70 L110.10,374.61 L110.80,374.61 L111.50,374.62 L112.20,374.46 L112.90,374.27 L113.60,374.18 L114.30,374.11 L115.00,374.16 L115.70,374.21 L116.40,373.94 L117.10,373.50 L117.80,373.13 L118.50,372.89 L119.20,372.87 L119.90,372.91 L120.60,372.80 L121.30,372.62 L122.00,372.48 L122.70,372.45 L123.40,372.38 L124.10,372.08 L124.80,371.84 L125.50,371.82 L126.20,371.82 L126.90,371.66 L127.60,371.54 L128.30,371.59 L129.00,371.83 L129.70,372.36 L130.40,372.71 L131.10,372.70 L131.80,372.86 L132.50,372.97 L133.20,372.97 L133.90,373.17 L134.60,373.38 L135.30,373.68 L136.00,373.93 L136.70,373.93 L137.40,374.14 L138.10,374.37 L138.80,374.42 L139.50,374.59 L140.20,374.74 L140.90,374.76 L141.60,374.81 L142.30,374.73 L143.00,374.67 L143.70,375.03 L144.40,375.31 L145.10,375.23 L145.80,375.04 L146.50,374.85 L147.20,374.85 L147.90,374.88 L148.60,374.99 L149.30,375.11 L150.00,375.05 L150.70,374.94 L151.40,374.88 L152.10,375.02 L152.80,375.13 L153.50,375.05 L154.20,375.17 L154.90,375.31 L155.60,375.10 L156.30,374.94 L157.00,375.10 L157.70,375.41 L158.40,375.50 L159.10,375.23 L159.80,374.95 L160.50,374.95 L161.20,374.96 L161.90,374.87 L162.60,374.96 L163.30,374.92 L164.00,374.70 L164.70,374.59 L165.40,374.59 L166.10,374.44 L166.80,374.21 L167.50,374.13 L168.20,373.93 L168.90,373.69 L169.60,373.59 L170.30,373.38 L171.00,373.04 L171.70,372.77 L172.40,372.79 L173.10,373.00 L173.80,372.99 L174.50,372.78 L175.20,372.59 L175.90,372.41 L176.60,372.40 L177.30,372.49 L178.00,372.51 L178.70,372.71 L179.40,373.06 L180.10,373.29 L180.80,373.53 L181.50,373.90 L182.20,374.24 L182.90,374.52 L183.60,374.64 L184.30,374.74 L185.00,374.92 L185.70,375.04 L186.40,375.14 L187.10,375.37 L187.80,375.68 L188.50,375.92 L189.20,375.94 L189.90,375.82 L190.60,375.91 L191.30,376.12 L192.00,376.24 L192.70,376.26 L193.40,376.36 L194.10,376.54 L194.80,376.52 L195.50,376.53 L196.20,376.79 L196.90,376.85 L197.60,376.76 L198.30,376.77 L199.00,376.81 L199.70,376.88 L200.40,376.80 L201.10,376.68 L201.80,376.68 L202.50,376.73 L203.20,376.83 L203.90,376.89 L204.60,376.84 L205.30,376.57 L206.00,376.39 L206.70,376.55 L207.40,376.68 L208.10,376.88 L208.80,377.08 L209.50,376.99 L210.20,376.87 L210.90,376.87 L211.60,376.87 L212.30,376.82 L213.00,376.78 L213.70,376.87 L214.40,377.04 L215.10,377.09 L215.80,377.06 L216.50,377.00 L217.20,376.95 L217.90,376.98 L218.60,377.07 L219.30,377.12 L220.00,377.02 L220.70,376.86 L221.40,376.95 L222.10,377.13 L222.80,377.04 L223.50,377.03 L224.20,377.23 L224.90,377.26 L225.60,377.11 L226.30,377.13 L227.00,377.29 L227.70,377.23 L228.40,377.08 L229.10,376.92 L229.80,376.73 L230.50,376.77 L231.20,376.99 L231.90,377.06 L232.60,376.92 L233.30,376.75 L234.00,376.73 L234.70,376.78 L235.40,376.85 L236.10,377.09 L236.80,377.38 L237.50,377.48 L238.20,377.25 L238.90,376.93 L239.60,376.64 L240.30,376.48 L241.00,376.70 L241.70,377.00 L242.40,377.15 L243.10,377.17 L243.80,377.13 L244.50,377.10 L245.20,377.19 L245.90,377.16 L246.60,376.93 L247.30,376.79 L248.00,376.90 L248.70,377.20 L249.40,377.31 L250.10,377.10 L250.80,376.91 L251.50,376.93 L252.20,376.99 L252.90,376.98 L253.60,377.01 L254.30,377.03 L255.00,377.04 L255.70,377.10 L256.40,377.07 L257.10,376.98" fill="none" stroke="#000000" stroke-width="3.1" stroke-linejoin="round" stroke-linecap="butt"/>
<path d="M20.50,352.74 L21.20,352.79 L21.90,352.88 L22.60,352.88 L23.30,352.85 L24.00,352.75 L24.70,352.73 L25.40,352.85 L26.10,352.88 L26.80,352.97 L27.50,352.92 L28.20,352.70 L28.90,352.70 L29.60,352.78 L30.30,352.75 L31.00,352.82 L31.70,352.98 L32.40,353.02 L33.10,352.99 L33.80,352.98 L34.50,352.95 L35.20,352.92 L35.90,352.98 L36.60,353.07 L37.30,353.01 L38.00,352.88 L38.70,352.84 L39.40,352.97 L40.10,353.04 L40.80,352.94 L41.50,352.92 L42.20,353.17 L42.90,353.32 L43.60,353.13 L44.30,353.04 L45.00,352.89 L45.70,352.68 L46.40,352.77 L47.10,352.96 L47.80,353.05 L48.50,352.93 L49.20,352.78 L49.90,352.82 L50.60,352.84 L51.30,352.79 L52.00,352.71 L52.70,352.62 L53.40,352.72 L54.10,352.97 L54.80,353.08 L55.50,352.95 L56.20,352.84 L56.90,352.90 L57.60,352.95 L58.30,352.95 L59.00,352.82 L59.70,352.63 L60.40,352.57 L61.10,352.56 L61.80,352.54 L62.50,352.44 L63.20,352.20 L63.90,352.03 L64.60,352.01 L65.30,352.03 L66.00,352.16 L66.70,352.13 L67.40,352.02 L68.10,352.17 L68.80,352.24 L69.50,352.20 L70.20,352.31 L70.90,352.18 L71.60,351.89 L72.30,351.88 L73.00,351.89 L73.70,351.82 L74.40,351.72 L75.10,351.50 L75.80,351.34 L76.50,351.26 L77.20,351.24 L77.90,351.19 L78.60,351.04 L79.30,351.06 L80.00,351.20 L80.70,351.21 L81.40,351.04 L82.10,350.82 L82.80,350.79 L83.50,350.89 L84.20,350.91 L84.90,350.93 L85.60,350.98 L86.30,350.92 L87.00,350.83 L87.70,350.84 L88.40,350.82 L89.10,350.77 L89.80,350.81 L90.50,350.77 L91.20,350.63 L91.90,350.57 L92.60,350.61 L93.30,350.64 L94.00,350.57 L94.70,350.46 L95.40,350.38 L96.10,350.32 L96.80,350.27 L97.50,349.98 L98.20,349.78 L98.90,349.92 L99.60,349.82 L100.30,349.55 L101.00,349.46 L101.70,349.52 L102.40,349.65 L103.10,349.39 L103.80,349.05 L104.50,349.00 L105.20,349.02 L105.90,348.91 L106.60,348.46 L107.30,348.10 L108.00,348.11 L108.70,348.01 L109.40,347.67 L110.10,347.41 L110.80,347.48 L111.50,347.34 L112.20,346.92 L112.90,346.72 L113.60,346.57 L114.30,346.35 L115.00,345.85 L115.70,345.30 L116.40,344.92 L117.10,344.38 L117.80,343.79 L118.50,343.30 L119.20,342.56 L119.90,341.90 L120.60,341.46 L121.30,340.69 L122.00,339.92 L122.70,339.31 L123.40,338.66 L124.10,338.22 L124.80,337.94 L125.50,337.65 L126.20,337.46 L126.90,337.28 L127.60,337.07 L128.30,337.08 L129.00,337.19 L129.70,337.34 L130.40,337.68 L131.10,338.17 L131.80,338.77 L132.50,339.26 L133.20,339.53 L133.90,339.85 L134.60,340.36 L135.30,340.94 L136.00,341.55 L136.70,342.04 L137.40,342.56 L138.10,343.27 L138.80,343.79 L139.50,344.22 L140.20,344.71 L140.90,345.05 L141.60,345.39 L142.30,345.80 L143.00,346.13 L143.70,346.50 L144.40,346.98 L145.10,347.47 L145.80,347.65 L146.50,347.68 L147.20,347.83 L147.90,347.88 L148.60,347.98 L149.30,348.14 L150.00,348.32 L150.70,348.50 L151.40,348.35 L152.10,348.25 L152.80,348.41 L153.50,348.39 L154.20,348.15 L154.90,348.07 L155.60,348.37 L156.30,348.57 L157.00,348.52 L157.70,348.53 L158.40,348.45 L159.10,348.26 L159.80,348.07 L160.50,347.85 L161.20,347.77 L161.90,347.81 L162.60,347.58 L163.30,347.30 L164.00,347.20 L164.70,346.96 L165.40,346.63 L166.10,346.34 L166.80,345.85 L167.50,345.26 L168.20,344.99 L168.90,344.75 L169.60,344.21 L170.30,343.83 L171.00,343.50 L171.70,342.85 L172.40,342.09 L173.10,341.51 L173.80,341.08 L174.50,340.55 L175.20,339.90 L175.90,339.49 L176.60,339.46 L177.30,339.43 L178.00,339.34 L178.70,339.51 L179.40,340.02 L180.10,340.68 L180.80,341.30 L181.50,341.90 L182.20,342.65 L182.90,343.33 L183.60,343.96 L184.30,344.85 L185.00,345.75 L185.70,346.61 L186.40,347.42 L187.10,348.10 L187.80,348.82 L188.50,349.42 L189.20,349.86 L189.90,350.18 L190.60,350.27 L191.30,350.51 L192.00,351.00 L192.70,351.48 L193.40,351.80 L194.10,351.77 L194.80,351.67 L195.50,351.71 L196.20,351.60 L196.90,351.69 L197.60,352.05 L198.30,352.06 L199.00,351.98 L199.70,352.09 L200.40,352.16 L201.10,352.12 L201.80,352.02 L202.50,351.79 L203.20,351.79 L203.90,352.14 L204.60,352.28 L205.30,352.15 L206.00,352.07 L206.70,352.00 L207.40,352.04 L208.10,352.22 L208.80,352.25 L209.50,352.17 L210.20,352.20 L210.90,352.25 L211.60,352.25 L212.30,352.13 L213.00,352.02 L213.70,352.22 L214.40,352.37 L215.10,352.17 L215.80,352.12 L216.50,352.28 L217.20,352.34 L217.90,352.17 L218.60,352.00 L219.30,352.03 L220.00,351.98 L220.70,352.01 L221.40,352.16 L222.10,352.22 L222.80,352.45 L223.50,352.68 L224.20,352.53 L224.90,352.28 L225.60,352.10 L226.30,352.01 L227.00,352.02 L227.70,352.03 L228.40,352.03 L229.10,352.08 L229.80,352.13 L230.50,352.04 L231.20,351.95 L231.90,352.05 L232.60,352.26 L233.30,352.40 L234.00,352.50 L234.70,352.48 L235.40,352.38 L236.10,352.30 L236.80,352.34 L237.50,352.61 L238.20,352.63 L238.90,352.33 L239.60,352.23 L240.30,352.23 L241.00,352.12 L241.70,352.21 L242.40,352.44 L243.10,352.42 L243.80,352.40 L244.50,352.43 L245.20,352.36 L245.90,352.36 L246.60,352.33 L247.30,352.32 L248.00,352.38 L248.70,352.47 L249.40,352.59 L250.10,352.62 L250.80,352.60 L251.50,352.49 L252.20,352.40 L252.90,352.28 L253.60,352.25 L254.30,352.46 L255.00,352.50 L255.70,352.45 L256.40,352.52 L257.10,352.47" fill="none" stroke="#d81414" stroke-width="3.1" stroke-linejoin="round" stroke-linecap="butt"/>
<path d="M20.50,327.04 L21.20,327.09 L21.90,326.98 L22.60,326.91 L23.30,327.12 L24.00,327.13 L24.70,326.90 L25.40,326.71 L26.10,326.60 L26.80,326.71 L27.50,326.90 L28.20,326.84 L28.90,326.71 L29.60,326.85 L30.30,327.01 L31.00,326.87 L31.70,326.83 L32.40,326.98 L33.10,326.94 L33.80,326.77 L34.50,326.58 L35.20,326.42 L35.90,326.43 L36.60,326.54 L37.30,326.62 L38.00,326.70 L38.70,326.72 L39.40,326.66 L40.10,326.54 L40.80,326.29 L41.50,326.15 L42.20,326.23 L42.90,326.26 L43.60,326.27 L44.30,326.24 L45.00,326.12 L45.70,326.10 L46.40,326.20 L47.10,326.20 L47.80,326.15 L48.50,326.15 L49.20,326.04 L49.90,325.91 L50.60,326.06 L51.30,326.14 L52.00,326.00 L52.70,326.03 L53.40,326.12 L54.10,325.95 L54.80,325.78 L55.50,325.82 L56.20,325.67 L56.90,325.45 L57.60,325.42 L58.30,325.43 L59.00,325.34 L59.70,325.30 L60.40,325.28 L61.10,325.04 L61.80,324.93 L62.50,325.07 L63.20,325.14 L63.90,324.99 L64.60,324.81 L65.30,324.85 L66.00,324.93 L66.70,324.80 L67.40,324.53 L68.10,324.43 L68.80,324.31 L69.50,324.10 L70.20,324.18 L70.90,324.29 L71.60,324.12 L72.30,324.02 L73.00,324.14 L73.70,324.18 L74.40,324.00 L75.10,323.75 L75.80,323.72 L76.50,323.71 L77.20,323.48 L77.90,323.38 L78.60,323.53 L79.30,323.46 L80.00,322.99 L80.70,322.62 L81.40,322.61 L82.10,322.69 L82.80,322.77 L83.50,322.76 L84.20,322.57 L84.90,322.40 L85.60,322.28 L86.30,322.14 L87.00,322.02 L87.70,322.09 L88.40,322.22 L89.10,321.96 L89.80,321.50 L90.50,321.27 L91.20,321.12 L91.90,320.92 L92.60,320.81 L93.30,320.82 L94.00,320.79 L94.70,320.55 L95.40,320.23 L96.10,319.98 L96.80,319.87 L97.50,319.83 L98.20,319.79 L98.90,319.65 L99.60,319.42 L100.30,319.27 L101.00,319.05 L101.70,318.62 L102.40,318.17 L103.10,318.03 L103.80,318.12 L104.50,317.99 L105.20,317.64 L105.90,317.27 L106.60,316.86 L107.30,316.46 L108.00,316.19 L108.70,315.99 L109.40,315.61 L110.10,315.10 L110.80,314.70 L111.50,314.35 L112.20,313.83 L112.90,313.31 L113.60,312.92 L114.30,312.29 L115.00,311.63 L115.70,311.10 L116.40,310.36 L117.10,309.49 L117.80,308.52 L118.50,307.34 L119.20,306.06 L119.90,304.93 L120.60,303.94 L121.30,302.91 L122.00,302.04 L122.70,301.12 L123.40,300.24 L124.10,299.62 L124.80,299.08 L125.50,298.51 L126.20,297.94 L126.90,297.40 L127.60,297.10 L128.30,297.19 L129.00,297.66 L129.70,298.27 L130.40,298.96 L131.10,299.80 L131.80,300.67 L132.50,301.56 L133.20,302.55 L133.90,303.55 L134.60,304.71 L135.30,305.84 L136.00,306.70 L136.70,307.66 L137.40,308.50 L138.10,308.97 L138.80,309.74 L139.50,310.55 L140.20,311.22 L140.90,311.83 L141.60,312.20 L142.30,312.83 L143.00,313.50 L143.70,313.77 L144.40,314.01 L145.10,314.28 L145.80,314.58 L146.50,314.85 L147.20,314.97 L147.90,315.19 L148.60,315.43 L149.30,315.44 L150.00,315.57 L150.70,315.72 L151.40,315.83 L152.10,316.10 L152.80,316.11 L153.50,315.98 L154.20,316.04 L154.90,316.06 L155.60,316.05 L156.30,316.02 L157.00,315.94 L157.70,315.83 L158.40,315.64 L159.10,315.45 L159.80,315.23 L160.50,314.93 L161.20,314.53 L161.90,314.10 L162.60,313.74 L163.30,313.45 L164.00,313.12 L164.70,312.62 L165.40,311.86 L166.10,310.94 L166.80,310.12 L167.50,309.32 L168.20,308.40 L168.90,307.43 L169.60,306.19 L170.30,304.80 L171.00,303.77 L171.70,302.97 L172.40,301.88 L173.10,300.86 L173.80,300.22 L174.50,299.78 L175.20,299.43 L175.90,299.20 L176.60,299.32 L177.30,299.90 L178.00,300.48 L178.70,301.11 L179.40,302.12 L180.10,303.39 L180.80,304.67 L181.50,305.91 L182.20,307.40 L182.90,308.98 L183.60,310.43 L184.30,311.97 L185.00,313.43 L185.70,314.81 L186.40,316.14 L187.10,317.13 L187.80,317.92 L188.50,318.73 L189.20,319.56 L189.90,320.44 L190.60,321.02 L191.30,321.35 L192.00,321.75 L192.70,322.08 L193.40,322.28 L194.10,322.34 L194.80,322.27 L195.50,322.53 L196.20,322.96 L196.90,322.98 L197.60,322.90 L198.30,323.08 L199.00,323.11 L199.70,322.94 L200.40,322.91 L201.10,323.15 L201.80,323.47 L202.50,323.58 L203.20,323.61 L203.90,323.72 L204.60,323.66 L205.30,323.49 L206.00,323.54 L206.70,323.59 L207.40,323.57 L208.10,323.68 L208.80,323.79 L209.50,323.74 L210.20,323.66 L210.90,323.89 L211.60,324.09 L212.30,323.84 L213.00,323.72 L213.70,323.97 L214.40,324.15 L215.10,324.08 L215.80,324.04 L216.50,324.13 L217.20,324.05 L217.90,323.96 L218.60,324.07 L219.30,324.25 L220.00,324.41 L220.70,324.44 L221.40,324.45 L222.10,324.51 L222.80,324.54 L223.50,324.48 L224.20,324.26 L224.90,324.27 L225.60,324.44 L226.30,324.40 L227.00,324.43 L227.70,324.52 L228.40,324.49 L229.10,324.60 L229.80,324.59 L230.50,324.43 L231.20,324.70 L231.90,324.94 L232.60,324.75 L233.30,324.64 L234.00,324.80 L234.70,324.80 L235.40,324.57 L236.10,324.53 L236.80,324.62 L237.50,324.67 L238.20,324.70 L238.90,324.67 L239.60,324.59 L240.30,324.54 L241.00,324.48 L241.70,324.47 L242.40,324.53 L243.10,324.50 L243.80,324.54 L244.50,324.71 L245.20,324.59 L245.90,324.49 L246.60,324.60 L247.30,324.61 L248.00,324.62 L248.70,324.65 L249.40,324.64 L250.10,324.60 L250.80,324.54 L251.50,324.70 L252.20,324.72 L252.90,324.45 L253.60,324.50 L254.30,324.59 L255.00,324.41 L255.70,324.50 L256.40,324.76 L257.10,324.69" fill="none" stroke="#1ee01e" stroke-width="3.1" stroke-linejoin="round" stroke-linecap="butt"/>
<path d="M20.50,297.31 L21.20,297.19 L21.90,297.04 L22.60,297.05 L23.30,297.10 L24.00,297.11 L24.70,297.01 L25.40,296.91 L26.10,296.94 L26.80,297.03 L27.50,296.90 L28.20,296.64 L28.90,296.61 L29.60,296.67 L30.30,296.60 L31.00,296.52 L31.70,296.48 L32.40,296.55 L33.10,296.69 L33.80,296.72 L34.50,296.74 L35.20,296.78 L35.90,296.82 L36.60,296.94 L37.30,296.82 L38.00,296.53 L38.70,296.21 L39.40,296.00 L40.10,296.19 L40.80,296.48 L41.50,296.49 L42.20,296.38 L42.90,296.42 L43.60,296.40 L44.30,296.16 L45.00,295.96 L45.70,296.04 L46.40,296.19 L47.10,296.23 L47.80,296.12 L48.50,296.04 L49.20,296.19 L49.90,296.26 L50.60,296.24 L51.30,296.27 L52.00,296.22 L52.70,295.98 L53.40,295.72 L54.10,295.79 L54.80,296.07 L55.50,296.10 L56.20,295.94 L56.90,295.84 L57.60,295.85 L58.30,295.84 L59.00,295.76 L59.70,295.85 L60.40,296.05 L61.10,295.92 L61.80,295.64 L62.50,295.52 L63.20,295.62 L63.90,295.83 L64.60,295.84 L65.30,295.73 L66.00,295.66 L66.70,295.57 L67.40,295.58 L68.10,295.76 L68.80,295.91 L69.50,295.89 L70.20,295.64 L70.90,295.56 L71.60,295.64 L72.30,295.48 L73.00,295.27 L73.70,295.30 L74.40,295.46 L75.10,295.50 L75.80,295.51 L76.50,295.60 L77.20,295.60 L77.90,295.48 L78.60,295.36 L79.30,295.33 L80.00,295.41 L80.70,295.43 L81.40,295.34 L82.10,295.26 L82.80,295.09 L83.50,294.90 L84.20,294.96 L84.90,295.15 L85.60,295.25 L86.30,295.24 L87.00,295.13 L87.70,295.12 L88.40,295.16 L89.10,295.00 L89.80,294.76 L90.50,294.68 L91.20,294.62 L91.90,294.53 L92.60,294.60 L93.30,294.59 L94.00,294.50 L94.70,294.48 L95.40,294.26 L96.10,294.02 L96.80,293.89 L97.50,293.78 L98.20,293.75 L98.90,293.75 L99.60,293.75 L100.30,293.59 L101.00,293.34 L101.70,293.04 L102.40,292.79 L103.10,292.70 L103.80,292.67 L104.50,292.64 L105.20,292.59 L105.90,292.53 L106.60,292.37 L107.30,292.12 L108.00,291.88 L108.70,291.69 L109.40,291.57 L110.10,291.33 L110.80,291.02 L111.50,290.98 L112.20,290.92 L112.90,290.47 L113.60,289.98 L114.30,289.58 L115.00,289.30 L115.70,289.16 L116.40,288.82 L117.10,288.46 L117.80,288.27 L118.50,287.76 L119.20,286.95 L119.90,286.33 L120.60,285.70 L121.30,284.91 L122.00,284.08 L122.70,283.15 L123.40,282.14 L124.10,281.11 L124.80,280.40 L125.50,279.84 L126.20,279.29 L126.90,278.85 L127.60,278.78 L128.30,278.90 L129.00,278.85 L129.70,278.74 L130.40,278.75 L131.10,278.93 L131.80,279.33 L132.50,279.94 L133.20,280.41 L133.90,280.84 L134.60,281.67 L135.30,282.60 L136.00,283.30 L136.70,284.07 L137.40,284.91 L138.10,285.47 L138.80,285.90 L139.50,286.54 L140.20,287.33 L140.90,288.11 L141.60,288.67 L142.30,288.95 L143.00,289.16 L143.70,289.45 L144.40,289.73 L145.10,289.90 L145.80,290.06 L146.50,290.41 L147.20,290.71 L147.90,290.84 L148.60,290.91 L149.30,290.85 L150.00,290.83 L150.70,291.07 L151.40,291.37 L152.10,291.37 L152.80,291.28 L153.50,291.29 L154.20,291.31 L154.90,291.36 L155.60,291.27 L156.30,291.14 L157.00,291.12 L157.70,290.96 L158.40,290.78 L159.10,290.78 L159.80,290.90 L160.50,290.93 L161.20,290.84 L161.90,290.82 L162.60,290.78 L163.30,290.47 L164.00,290.22 L164.70,290.21 L165.40,290.01 L166.10,289.44 L166.80,288.85 L167.50,288.59 L168.20,288.40 L168.90,288.08 L169.60,287.43 L170.30,286.53 L171.00,285.69 L171.70,284.97 L172.40,284.33 L173.10,283.79 L173.80,283.22 L174.50,282.52 L175.20,281.86 L175.90,281.50 L176.60,281.29 L177.30,281.31 L178.00,281.67 L178.70,282.02 L179.40,282.21 L180.10,282.52 L180.80,283.05 L181.50,283.72 L182.20,284.51 L182.90,285.35 L183.60,286.20 L184.30,287.01 L185.00,287.80 L185.70,288.69 L186.40,289.53 L187.10,290.36 L187.80,291.04 L188.50,291.58 L189.20,292.28 L189.90,292.91 L190.60,293.16 L191.30,293.37 L192.00,293.68 L192.70,293.92 L193.40,294.21 L194.10,294.64 L194.80,294.83 L195.50,294.77 L196.20,294.95 L196.90,295.22 L197.60,295.35 L198.30,295.46 L199.00,295.63 L199.70,295.81 L200.40,295.82 L201.10,295.85 L201.80,295.95 L202.50,295.99 L203.20,296.07 L203.90,296.16 L204.60,296.14 L205.30,296.11 L206.00,296.06 L206.70,295.96 L207.40,295.93 L208.10,296.01 L208.80,296.11 L209.50,296.07 L210.20,296.07 L210.90,296.25 L211.60,296.24 L212.30,296.20 L213.00,296.40 L213.70,296.41 L214.40,296.38 L215.10,296.47 L215.80,296.39 L216.50,296.43 L217.20,296.54 L217.90,296.38 L218.60,296.37 L219.30,296.44 L220.00,296.32 L220.70,296.36 L221.40,296.62 L222.10,296.70 L222.80,296.48 L223.50,296.43 L224.20,296.54 L224.90,296.44 L225.60,296.35 L226.30,296.46 L227.00,296.55 L227.70,296.62 L228.40,296.72 L229.10,296.72 L229.80,296.63 L230.50,296.50 L231.20,296.38 L231.90,296.44 L232.60,296.51 L233.30,296.49 L234.00,296.46 L234.70,296.53 L235.40,296.81 L236.10,296.88 L236.80,296.65 L237.50,296.55 L238.20,296.62 L238.90,296.72 L239.60,296.69 L240.30,296.58 L241.00,296.54 L241.70,296.50 L242.40,296.49 L243.10,296.55 L243.80,296.56 L244.50,296.61 L245.20,296.70 L245.90,296.72 L246.60,296.71 L247.30,296.65 L248.00,296.57 L248.70,296.59 L249.40,296.61 L250.10,296.61 L250.80,296.67 L251.50,296.59 L252.20,296.42 L252.90,296.42 L253.60,296.51 L254.30,296.53 L255.00,296.37 L255.70,296.25 L256.40,296.43 L257.10,296.70" fill="none" stroke="#0000c4" stroke-width="3.1" stroke-linejoin="round" stroke-linecap="butt"/>
<path d="M20.50,273.76 L21.20,273.80 L21.90,273.71 L22.60,273.59 L23.30,273.74 L24.00,273.89 L24.70,273.90 L25.40,273.89 L26.10,273.81 L26.80,273.73 L27.50,273.74 L28.20,273.89 L28.90,274.02 L29.60,273.90 L30.30,273.72 L31.00,273.58 L31.70,273.64 L32.40,273.73 L33.10,273.55 L33.80,273.45 L34.50,273.52 L35.20,273.67 L35.90,273.66 L36.60,273.43 L37.30,273.50 L38.00,273.59 L38.70,273.40 L39.40,273.39 L40.10,273.62 L40.80,273.66 L41.50,273.36 L42.20,273.26 L42.90,273.56 L43.60,273.66 L44.30,273.33 L45.00,273.19 L45.70,273.42 L46.40,273.51 L47.10,273.48 L47.80,273.38 L48.50,273.25 L49.20,273.32 L49.90,273.54 L50.60,273.42 L51.30,273.03 L52.00,273.11 L52.70,273.38 L53.40,273.20 L54.10,273.01 L54.80,273.10 L55.50,273.16 L56.20,273.11 L56.90,273.06 L57.60,273.03 L58.30,273.06 L59.00,273.06 L59.70,272.99 L60.40,272.97 L61.10,273.10 L61.80,273.22 L62.50,273.15 L63.20,273.05 L63.90,273.08 L64.60,273.13 L65.30,273.16 L66.00,273.19 L66.70,273.28 L67.40,273.20 L68.10,272.96 L68.80,272.90 L69.50,273.00 L70.20,272.99 L70.90,272.79 L71.60,272.55 L72.30,272.54 L73.00,272.80 L73.70,272.98 L74.40,272.87 L75.10,272.75 L75.80,272.80 L76.50,272.79 L77.20,272.80 L77.90,272.77 L78.60,272.62 L79.30,272.47 L80.00,272.35 L80.70,272.34 L81.40,272.43 L82.10,272.61 L82.80,272.75 L83.50,272.78 L84.20,272.69 L84.90,272.57 L85.60,272.57 L86.30,272.59 L87.00,272.63 L87.70,272.55 L88.40,272.42 L89.10,272.44 L89.80,272.47 L90.50,272.48 L91.20,272.64 L91.90,272.66 L92.60,272.43 L93.30,272.16 L94.00,272.03 L94.70,272.13 L95.40,272.09 L96.10,271.97 L96.80,272.15 L97.50,272.22 L98.20,272.05 L98.90,271.92 L99.60,271.92 L100.30,271.90 L101.00,271.73 L101.70,271.81 L102.40,271.97 L103.10,271.82 L103.80,271.63 L104.50,271.43 L105.20,271.24 L105.90,271.25 L106.60,271.17 L107.30,270.98 L108.00,270.96 L108.70,270.98 L109.40,270.66 L110.10,270.15 L110.80,269.79 L111.50,269.68 L112.20,269.69 L112.90,269.53 L113.60,269.13 L114.30,268.58 L115.00,268.11 L115.70,267.78 L116.40,267.30 L117.10,266.70 L117.80,266.25 L118.50,265.79 L119.20,265.15 L119.90,264.30 L120.60,263.56 L121.30,263.10 L122.00,262.60 L122.70,261.97 L123.40,261.39 L124.10,260.94 L124.80,260.55 L125.50,260.05 L126.20,259.49 L126.90,258.98 L127.60,258.70 L128.30,258.56 L129.00,258.41 L129.70,258.51 L130.40,259.00 L131.10,259.60 L131.80,260.15 L132.50,260.71 L133.20,261.16 L133.90,261.55 L134.60,262.01 L135.30,262.82 L136.00,263.80 L136.70,264.59 L137.40,265.37 L138.10,266.11 L138.80,266.70 L139.50,267.24 L140.20,267.79 L140.90,268.34 L141.60,268.82 L142.30,269.22 L143.00,269.51 L143.70,269.73 L144.40,269.92 L145.10,270.12 L145.80,270.18 L146.50,270.07 L147.20,270.32 L147.90,270.62 L148.60,270.42 L149.30,270.23 L150.00,270.41 L150.70,270.55 L151.40,270.50 L152.10,270.47 L152.80,270.41 L153.50,270.54 L154.20,270.75 L154.90,270.53 L155.60,270.25 L156.30,270.26 L157.00,270.36 L157.70,270.42 L158.40,270.41 L159.10,270.24 L159.80,270.10 L160.50,270.17 L161.20,270.16 L161.90,269.94 L162.60,269.69 L163.30,269.51 L164.00,269.32 L164.70,269.01 L165.40,268.62 L166.10,268.35 L166.80,267.99 L167.50,267.46 L168.20,267.02 L168.90,266.71 L169.60,266.30 L170.30,265.65 L171.00,265.07 L171.70,264.51 L172.40,264.06 L173.10,263.66 L173.80,263.18 L174.50,262.80 L175.20,262.60 L175.90,262.54 L176.60,262.36 L177.30,262.00 L178.00,261.64 L178.70,261.72 L179.40,262.25 L180.10,262.75 L180.80,263.35 L181.50,264.04 L182.20,264.73 L182.90,265.51 L183.60,266.35 L184.30,267.19 L185.00,268.07 L185.70,268.93 L186.40,269.69 L187.10,270.35 L187.80,270.82 L188.50,271.11 L189.20,271.36 L189.90,271.41 L190.60,271.47 L191.30,271.84 L192.00,272.13 L192.70,272.23 L193.40,272.26 L194.10,272.24 L194.80,272.44 L195.50,272.77 L196.20,272.89 L196.90,272.74 L197.60,272.80 L198.30,273.00 L199.00,273.10 L199.70,273.26 L200.40,273.19 L201.10,273.11 L201.80,273.38 L202.50,273.44 L203.20,273.32 L203.90,273.43 L204.60,273.53 L205.30,273.56 L206.00,273.40 L206.70,273.29 L207.40,273.53 L208.10,273.81 L208.80,273.99 L209.50,273.97 L210.20,273.79 L210.90,273.61 L211.60,273.55 L212.30,273.55 L213.00,273.55 L213.70,273.47 L214.40,273.41 L215.10,273.61 L215.80,273.94 L216.50,274.16 L217.20,274.03 L217.90,273.85 L218.60,273.81 L219.30,273.71 L220.00,273.61 L220.70,273.72 L221.40,274.02 L222.10,274.03 L222.80,273.84 L223.50,273.95 L224.20,274.13 L224.90,274.15 L225.60,274.04 L226.30,273.91 L227.00,273.92 L227.70,274.10 L228.40,274.15 L229.10,273.98 L229.80,273.99 L230.50,274.14 L231.20,274.16 L231.90,274.24 L232.60,274.32 L233.30,274.41 L234.00,274.51 L234.70,274.44 L235.40,274.30 L236.10,274.11 L236.80,274.13 L237.50,274.38 L238.20,274.58 L238.90,274.68 L239.60,274.67 L240.30,274.48 L241.00,274.40 L241.70,274.44 L242.40,274.37 L243.10,274.25 L243.80,274.26 L244.50,274.33 L245.20,274.30 L245.90,274.26 L246.60,274.28 L247.30,274.34 L248.00,274.36 L248.70,274.31 L249.40,274.20 L250.10,274.30 L250.80,274.45 L251.50,274.36 L252.20,274.32 L252.90,274.19 L253.60,274.10 L254.30,274.32 L255.00,274.40 L255.70,274.32 L256.40,274.35 L257.10,274.34" fill="none" stroke="#1ee0da" stroke-width="3.1" stroke-linejoin="round" stroke-linecap="butt"/>
<path d="M20.50,252.00 L21.20,251.98 L21.90,252.11 L22.60,252.16 L23.30,251.96 L24.00,251.99 L24.70,251.94 L25.40,251.56 L26.10,251.51 L26.80,251.71 L27.50,251.74 L28.20,251.79 L28.90,251.81 L29.60,251.58 L30.30,251.26 L31.00,251.16 L31.70,251.31 L32.40,251.40 L33.10,251.44 L33.80,251.37 L34.50,251.33 L35.20,251.54 L35.90,251.60 L36.60,251.37 L37.30,251.12 L38.00,251.05 L38.70,251.06 L39.40,250.99 L40.10,250.97 L40.80,251.08 L41.50,251.13 L42.20,251.05 L42.90,251.03 L43.60,251.10 L44.30,250.86 L45.00,250.53 L45.70,250.62 L46.40,250.86 L47.10,250.91 L47.80,250.80 L48.50,250.67 L49.20,250.68 L49.90,250.72 L50.60,250.63 L51.30,250.51 L52.00,250.54 L52.70,250.60 L53.40,250.45 L54.10,250.36 L54.80,250.47 L55.50,250.49 L56.20,250.52 L56.90,250.62 L57.60,250.69 L58.30,250.61 L59.00,250.40 L59.70,250.26 L60.40,250.31 L61.10,250.52 L61.80,250.59 L62.50,250.51 L63.20,250.23 L63.90,250.11 L64.60,250.35 L65.30,250.38 L66.00,250.28 L66.70,250.29 L67.40,250.34 L68.10,250.22 L68.80,250.10 L69.50,250.20 L70.20,250.15 L70.90,250.19 L71.60,250.41 L72.30,250.36 L73.00,250.04 L73.70,249.89 L74.40,250.07 L75.10,250.19 L75.80,250.06 L76.50,249.90 L77.20,249.84 L77.90,249.90 L78.60,250.08 L79.30,250.26 L80.00,250.20 L80.70,250.05 L81.40,250.07 L82.10,250.10 L82.80,250.00 L83.50,250.11 L84.20,250.29 L84.90,250.22 L85.60,250.09 L86.30,249.99 L87.00,249.85 L87.70,249.75 L88.40,249.92 L89.10,250.22 L89.80,250.34 L90.50,250.24 L91.20,250.06 L91.90,249.89 L92.60,249.78 L93.30,249.83 L94.00,249.85 L94.70,249.81 L95.40,249.79 L96.10,249.59 L96.80,249.39 L97.50,249.36 L98.20,249.31 L98.90,249.42 L99.60,249.62 L100.30,249.59 L101.00,249.56 L101.70,249.65 L102.40,249.55 L103.10,249.39 L103.80,249.38 L104.50,249.28 L105.20,249.13 L105.90,248.97 L106.60,248.71 L107.30,248.61 L108.00,248.66 L108.70,248.59 L109.40,248.38 L110.10,248.25 L110.80,248.25 L111.50,248.15 L112.20,247.92 L112.90,247.62 L113.60,247.18 L114.30,246.83 L115.00,246.54 L115.70,246.13 L116.40,245.84 L117.10,245.60 L117.80,245.03 L118.50,244.46 L119.20,244.20 L119.90,243.85 L120.60,243.28 L121.30,242.72 L122.00,242.09 L122.70,241.49 L123.40,240.94 L124.10,240.52 L124.80,240.02 L125.50,239.39 L126.20,238.93 L126.90,238.50 L127.60,238.36 L128.30,238.56 L129.00,238.71 L129.70,238.72 L130.40,238.84 L131.10,239.18 L131.80,239.68 L132.50,240.21 L133.20,240.45 L133.90,240.64 L134.60,241.04 L135.30,241.56 L136.00,242.25 L136.70,243.02 L137.40,243.64 L138.10,244.10 L138.80,244.43 L139.50,244.86 L140.20,245.31 L140.90,245.43 L141.60,245.64 L142.30,246.06 L143.00,246.31 L143.70,246.61 L144.40,246.92 L145.10,247.07 L145.80,247.25 L146.50,247.45 L147.20,247.76 L147.90,247.89 L148.60,247.79 L149.30,247.77 L150.00,247.86 L150.70,248.10 L151.40,248.21 L152.10,248.17 L152.80,248.23 L153.50,248.18 L154.20,248.08 L154.90,248.25 L155.60,248.55 L156.30,248.52 L157.00,248.32 L157.70,248.27 L158.40,248.16 L159.10,247.93 L159.80,248.05 L160.50,248.20 L161.20,247.95 L161.90,247.77 L162.60,247.64 L163.30,247.39 L164.00,247.28 L164.70,247.20 L165.40,246.95 L166.10,246.65 L166.80,246.36 L167.50,246.12 L168.20,245.94 L168.90,245.75 L169.60,245.31 L170.30,244.56 L171.00,243.94 L171.70,243.73 L172.40,243.37 L173.10,242.70 L173.80,242.08 L174.50,241.79 L175.20,241.53 L175.90,241.05 L176.60,240.73 L177.30,240.72 L178.00,240.77 L178.70,240.82 L179.40,241.01 L180.10,241.52 L180.80,242.23 L181.50,242.78 L182.20,243.08 L182.90,243.43 L183.60,244.15 L184.30,245.03 L185.00,245.86 L185.70,246.72 L186.40,247.46 L187.10,248.00 L187.80,248.50 L188.50,248.86 L189.20,249.11 L189.90,249.62 L190.60,250.05 L191.30,250.04 L192.00,250.17 L192.70,250.48 L193.40,250.52 L194.10,250.45 L194.80,250.57 L195.50,250.90 L196.20,251.19 L196.90,251.26 L197.60,251.25 L198.30,251.22 L199.00,251.14 L199.70,251.15 L200.40,251.21 L201.10,251.34 L201.80,251.52 L202.50,251.50 L203.20,251.43 L203.90,251.50 L204.60,251.42 L205.30,251.32 L206.00,251.33 L206.70,251.33 L207.40,251.47 L208.10,251.59 L208.80,251.60 L209.50,251.63 L210.20,251.60 L210.90,251.51 L211.60,251.45 L212.30,251.50 L213.00,251.52 L213.70,251.54 L214.40,251.64 L215.10,251.59 L215.80,251.39 L216.50,251.38 L217.20,251.60 L217.90,251.77 L218.60,251.85 L219.30,251.94 L220.00,251.98 L220.70,251.88 L221.40,251.71 L222.10,251.56 L222.80,251.54 L223.50,251.66 L224.20,251.79 L224.90,251.82 L225.60,251.78 L226.30,251.80 L227.00,251.87 L227.70,251.88 L228.40,251.87 L229.10,251.83 L229.80,251.70 L230.50,251.68 L231.20,251.84 L231.90,251.90 L232.60,251.80 L233.30,251.91 L234.00,252.05 L234.70,251.88 L235.40,251.80 L236.10,251.81 L236.80,251.75 L237.50,251.93 L238.20,252.17 L238.90,252.16 L239.60,252.07 L240.30,252.02 L241.00,252.02 L241.70,252.04 L242.40,251.95 L243.10,251.89 L243.80,252.00 L244.50,252.10 L245.20,252.11 L245.90,251.96 L246.60,251.85 L247.30,252.16 L248.00,252.45 L248.70,252.27 L249.40,251.02 L250.10,250.31 L250.80,251.28 L251.50,251.94 L252.20,252.03 L252.90,252.09 L253.60,252.24 L254.30,252.19 L255.00,251.94 L255.70,251.96 L256.40,251.94 L257.10,251.88" fill="none" stroke="#d812d8" stroke-width="3.1" stroke-linejoin="round" stroke-linecap="butt"/>
</g>
<line x1="127.3" y1="226.8" x2="127.9" y2="381.5" stroke="#2a2a2a" stroke-width="1.3" stroke-dasharray="1.2 1.2"/>
<line x1="177.8" y1="228.8" x2="177.9" y2="381.0" stroke="#2a2a2a" stroke-width="1.3" stroke-dasharray="1.2 1.2"/>
<text x="30.90" y="250.00" font-size="9.6" text-anchor="start" >R=1.178</text>
<text x="29.80" y="271.90" font-size="9.6" text-anchor="start" >R=1.168</text>
<text x="29.80" y="294.80" font-size="9.6" text-anchor="start" >R=1.132</text>
<text x="28.70" y="323.00" font-size="9.6" text-anchor="start" >R=1.126</text>
<text x="29.30" y="349.50" font-size="9.6" text-anchor="start" >R=1.120</text>
<text x="29.80" y="374.40" font-size="9.6" text-anchor="start" >R=1.026</text>
<text x="233.80" y="248.30" font-size="9.6" text-anchor="start" >B6</text>
<text x="234.90" y="271.10" font-size="9.6" text-anchor="start" >B5</text>
<text x="235.00" y="293.10" font-size="9.6" text-anchor="start" >B4</text>
<text x="235.40" y="322.00" font-size="9.6" text-anchor="start" >B3</text>
<text x="235.40" y="350.20" font-size="9.6" text-anchor="start" >B2</text>
<text x="236.00" y="374.00" font-size="9.6" text-anchor="start" >B1</text>
<text x="24.40" y="226.30" font-size="10.8" text-anchor="start" font-weight="bold">(c)</text>
<rect x="21.5" y="214.7" width="235.0" height="169.8" fill="none" stroke="#555" stroke-width="1.1"/>
<line x1="60.50" y1="384.5" x2="60.50" y2="381.5" stroke="#555" stroke-width="1"/>
<line x1="158.40" y1="384.5" x2="158.40" y2="381.5" stroke="#555" stroke-width="1"/>
<line x1="109.45" y1="384.5" x2="109.45" y2="382.5" stroke="#555" stroke-width="1"/>
<line x1="207.35" y1="384.5" x2="207.35" y2="382.5" stroke="#555" stroke-width="1"/>
<text x="60.50" y="395.80" font-size="10.3" text-anchor="middle" >1000</text>
<text x="158.40" y="395.80" font-size="10.3" text-anchor="middle" >1500</text>
<text x="256.30" y="395.80" font-size="10.3" text-anchor="middle" >2000</text>
<text x="96.6" y="410.4" font-size="11.8">Raman shift(cm<tspan font-size="7.5" dy="-4.0">-1</tspan><tspan dy="4.0">)</tspan></text>
<text transform="translate(11.6,299.60) rotate(-90)" font-size="10.6" text-anchor="middle">Intensity(a.u.)</text>
<rect x="308.7" y="5.0" width="236.3" height="170.4" fill="none" stroke="#555" stroke-width="1.1"/>
<line x1="308.7" y1="161.50" x2="311.7" y2="161.50" stroke="#555" stroke-width="1"/>
<text x="304.80" y="164.90" font-size="10.6" text-anchor="end" >0.382</text>
<line x1="308.7" y1="133.10" x2="311.7" y2="133.10" stroke="#555" stroke-width="1"/>
<text x="304.80" y="136.50" font-size="10.6" text-anchor="end" >0.384</text>
<line x1="308.7" y1="104.70" x2="311.7" y2="104.70" stroke="#555" stroke-width="1"/>
<text x="304.80" y="108.10" font-size="10.6" text-anchor="end" >0.386</text>
<line x1="308.7" y1="76.30" x2="311.7" y2="76.30" stroke="#555" stroke-width="1"/>
<text x="304.80" y="79.70" font-size="10.6" text-anchor="end" >0.388</text>
<line x1="308.7" y1="47.90" x2="311.7" y2="47.90" stroke="#555" stroke-width="1"/>
<text x="304.80" y="51.30" font-size="10.6" text-anchor="end" >0.390</text>
<line x1="308.7" y1="19.50" x2="311.7" y2="19.50" stroke="#555" stroke-width="1"/>
<text x="304.80" y="22.90" font-size="10.6" text-anchor="end" >0.392</text>
<line x1="328.0" y1="175.4" x2="328.0" y2="172.4" stroke="#555" stroke-width="1"/>
<text x="328.30" y="186.70" font-size="10.3" text-anchor="middle" >B1</text>
<line x1="367.5" y1="175.4" x2="367.5" y2="172.4" stroke="#555" stroke-width="1"/>
<text x="367.80" y="186.70" font-size="10.3" text-anchor="middle" >B2</text>
<line x1="407.0" y1="175.4" x2="407.0" y2="172.4" stroke="#555" stroke-width="1"/>
<text x="407.30" y="186.70" font-size="10.3" text-anchor="middle" >B3</text>
<line x1="446.5" y1="175.4" x2="446.5" y2="172.4" stroke="#555" stroke-width="1"/>
<text x="446.80" y="186.70" font-size="10.3" text-anchor="middle" >B4</text>
<line x1="486.0" y1="175.4" x2="486.0" y2="172.4" stroke="#555" stroke-width="1"/>
<text x="486.30" y="186.70" font-size="10.3" text-anchor="middle" >B5</text>
<line x1="525.5" y1="175.4" x2="525.5" y2="172.4" stroke="#555" stroke-width="1"/>
<text x="525.80" y="186.70" font-size="10.3" text-anchor="middle" >B6</text>
<polyline points="328.0,161.50 367.5,118.90 407.0,90.50 446.5,62.10 486.0,19.50 525.5,62.10" fill="none" stroke="#3c3c3c" stroke-width="1.1"/>
<rect x="326.00" y="159.50" width="4.0" height="4.0" fill="#000"/>
<rect x="365.50" y="116.90" width="4.0" height="4.0" fill="#000"/>
<rect x="405.00" y="88.50" width="4.0" height="4.0" fill="#000"/>
<rect x="444.50" y="60.10" width="4.0" height="4.0" fill="#000"/>
<rect x="484.00" y="17.50" width="4.0" height="4.0" fill="#000"/>
<rect x="523.50" y="60.10" width="4.0" height="4.0" fill="#000"/>
<text x="313.40" y="15.60" font-size="9.6" text-anchor="start" >(b)</text>
<text x="427.00" y="203.30" font-size="11.4" text-anchor="middle" >Type</text>
<text transform="translate(275.2,89.5) rotate(-90)" font-size="10.5" text-anchor="middle">Interlayer spacing(nm)</text>
<rect x="309.4" y="214.5" width="236.20000000000005" height="171.0" fill="none" stroke="#555" stroke-width="1.1"/>
<line x1="309.4" y1="349.50" x2="312.4" y2="349.50" stroke="#555" stroke-width="1"/>
<text x="305.20" y="352.90" font-size="10.6" text-anchor="end" class="lt">1.05</text>
<line x1="309.4" y1="304.50" x2="312.4" y2="304.50" stroke="#555" stroke-width="1"/>
<text x="305.20" y="307.90" font-size="10.6" text-anchor="end" class="lt">1.10</text>
<line x1="309.4" y1="259.50" x2="312.4" y2="259.50" stroke="#555" stroke-width="1"/>
<text x="305.20" y="262.90" font-size="10.6" text-anchor="end" class="lt">1.15</text>
<line x1="309.4" y1="214.50" x2="312.4" y2="214.50" stroke="#555" stroke-width="1"/>
<text x="305.20" y="217.90" font-size="10.6" text-anchor="end" class="lt">1.20</text>
<line x1="328.0" y1="385.5" x2="328.0" y2="382.5" stroke="#555" stroke-width="1"/>
<text x="328.30" y="397.70" font-size="10.3" text-anchor="middle" class="lt">B1</text>
<line x1="367.5" y1="385.5" x2="367.5" y2="382.5" stroke="#555" stroke-width="1"/>
<text x="367.80" y="397.70" font-size="10.3" text-anchor="middle" class="lt">B2</text>
<line x1="407.0" y1="385.5" x2="407.0" y2="382.5" stroke="#555" stroke-width="1"/>
<text x="407.30" y="397.70" font-size="10.3" text-anchor="middle" class="lt">B3</text>
<line x1="446.5" y1="385.5" x2="446.5" y2="382.5" stroke="#555" stroke-width="1"/>
<text x="446.80" y="397.70" font-size="10.3" text-anchor="middle" class="lt">B4</text>
<line x1="486.0" y1="385.5" x2="486.0" y2="382.5" stroke="#555" stroke-width="1"/>
<text x="486.30" y="397.70" font-size="10.3" text-anchor="middle" class="lt">B5</text>
<line x1="525.5" y1="385.5" x2="525.5" y2="382.5" stroke="#555" stroke-width="1"/>
<text x="525.80" y="397.70" font-size="10.3" text-anchor="middle" class="lt">B6</text>
<polyline points="328.0,371.10 367.5,286.50 407.0,281.10 446.5,275.70 486.0,243.30 525.5,234.30" fill="none" stroke="#3c3c3c" stroke-width="1.1"/>
<rect x="326.00" y="369.10" width="4.0" height="4.0" fill="#000"/>
<rect x="365.50" y="284.50" width="4.0" height="4.0" fill="#000"/>
<rect x="405.00" y="279.10" width="4.0" height="4.0" fill="#000"/>
<rect x="444.50" y="273.70" width="4.0" height="4.0" fill="#000"/>
<rect x="484.00" y="241.30" width="4.0" height="4.0" fill="#000"/>
<rect x="523.50" y="232.30" width="4.0" height="4.0" fill="#000"/>
<text x="311.40" y="225.00" font-size="9.8" text-anchor="start" class="lt">(d)</text>
<text x="427.30" y="413.60" font-size="11.4" text-anchor="middle" class="lt">Type</text>
<text transform="translate(278.9,300.00) rotate(-90)" class="lt" font-size="10" text-anchor="middle">R=I<tspan font-size="7" dy="2.5">D</tspan><tspan dy="-2.5">/I</tspan><tspan font-size="7" dy="2.5">G</tspan></text>
</g></svg>
</body></html>
